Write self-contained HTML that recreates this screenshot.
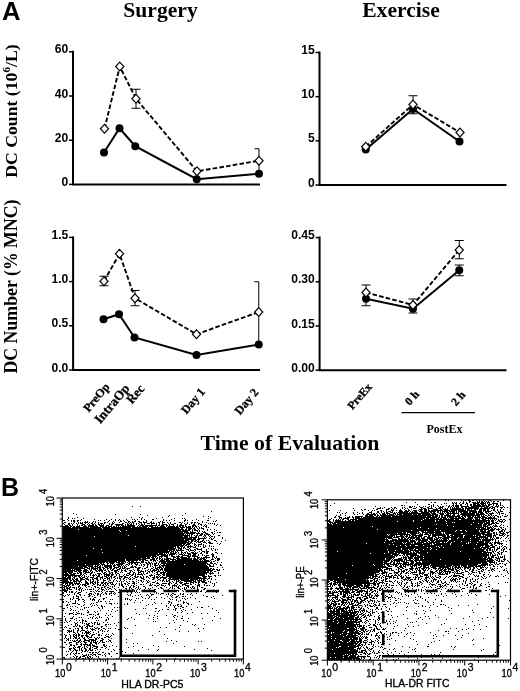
<!DOCTYPE html>
<html><head><meta charset="utf-8"><title>Figure</title>
<style>
html,body{margin:0;padding:0;background:#fff;}
svg{display:block;}
.sf{font-family:"Liberation Serif","DejaVu Serif",serif;font-weight:bold;fill:#000;}
.ss{font-family:"Liberation Sans","DejaVu Sans",sans-serif;font-weight:bold;fill:#000;}
.sr{font-family:"Liberation Sans","DejaVu Sans",sans-serif;fill:#000;stroke:#000;stroke-width:0.35px;}
</style></head><body>
<svg width="520" height="691" viewBox="0 0 520 691">
<rect width="520" height="691" fill="#fff"/>
<text x="2.1" y="20" class="ss" font-size="25.6" text-anchor="start">A</text>
<text x="0.9" y="496" class="ss" font-size="25" text-anchor="start">B</text>
<text x="160.5" y="17.3" class="sf" font-size="21.6" text-anchor="middle">Surgery</text>
<text x="401" y="17.3" class="sf" font-size="21.6" text-anchor="middle">Exercise</text>
<text x="290" y="449.5" class="sf" font-size="21.8" text-anchor="middle">Time of Evaluation</text>
<text x="16.7" y="177.7" class="sf" font-size="17.7" text-anchor="start" transform="rotate(-90 16.7 177.7)">DC Count (10<tspan font-size="11.2" dy="-6.5">6</tspan><tspan dy="6.5">/L)</tspan></text>
<text x="16.7" y="373.5" class="sf" font-size="17.8" text-anchor="start" transform="rotate(-90 16.7 373.5)">DC Number (% MNC)</text>
<path d="M73 50.8V184.4H260" fill="none" stroke="#000" stroke-width="2" stroke-linejoin="miter"/>
<path d="M69 184.4H73" stroke="#000" stroke-width="1.5"/>
<text x="68.2" y="185.9" class="ss" font-size="12.1" text-anchor="end">0</text>
<path d="M69 140.2H73" stroke="#000" stroke-width="1.5"/>
<text x="68.2" y="141.7" class="ss" font-size="12.1" text-anchor="end">20</text>
<path d="M69 95.99999999999999H73" stroke="#000" stroke-width="1.5"/>
<text x="68.2" y="97.5" class="ss" font-size="12.1" text-anchor="end">40</text>
<path d="M69 51.79999999999998H73" stroke="#000" stroke-width="1.5"/>
<text x="68.2" y="53.3" class="ss" font-size="12.1" text-anchor="end">60</text>
<path d="M104 152.5L119.5 128.25L135.25 146.25L196.75 179.25L259 173.75" fill="none" stroke="#000" stroke-width="2"/>
<path d="M104.5 128.75L119.75 66.5L136 98.75L197 171.25L259 160.75" fill="none" stroke="#000" stroke-width="1.9" stroke-dasharray="4.6 2.2"/>
<path d="M136 89.25V108.25M131.5 89.25H140.5M131.5 108.25H140.5" fill="none" stroke="#000" stroke-width="1"/>
<path d="M259 148.75V173M254.5 148.75H259" fill="none" stroke="#000" stroke-width="1"/>
<circle cx="104" cy="152.5" r="4" fill="#000"/>
<circle cx="119.5" cy="128.25" r="4" fill="#000"/>
<circle cx="135.25" cy="146.25" r="4" fill="#000"/>
<circle cx="196.75" cy="179.25" r="4" fill="#000"/>
<circle cx="259" cy="173.75" r="4" fill="#000"/>
<path d="M104.5 124.45L108.6 128.75L104.5 133.05L100.4 128.75Z" fill="#fff" stroke="#000" stroke-width="1.15"/>
<path d="M119.75 62.2L123.85 66.5L119.75 70.8L115.65 66.5Z" fill="#fff" stroke="#000" stroke-width="1.15"/>
<path d="M136 94.45L140.1 98.75L136 103.05L131.9 98.75Z" fill="#fff" stroke="#000" stroke-width="1.15"/>
<path d="M197 166.95L201.1 171.25L197 175.55L192.9 171.25Z" fill="#fff" stroke="#000" stroke-width="1.15"/>
<path d="M259 156.45L263.1 160.75L259 165.05L254.9 160.75Z" fill="#fff" stroke="#000" stroke-width="1.15"/>
<path d="M319.5 51.5V185.0H506.5" fill="none" stroke="#000" stroke-width="2" stroke-linejoin="miter"/>
<path d="M315.5 185.0H319.5" stroke="#000" stroke-width="1.5"/>
<text x="314.7" y="186.5" class="ss" font-size="12.1" text-anchor="end">0</text>
<path d="M315.5 140.83333333333334H319.5" stroke="#000" stroke-width="1.5"/>
<text x="314.7" y="142.33" class="ss" font-size="12.1" text-anchor="end">5</text>
<path d="M315.5 96.66666666666667H319.5" stroke="#000" stroke-width="1.5"/>
<text x="314.7" y="98.17" class="ss" font-size="12.1" text-anchor="end">10</text>
<path d="M315.5 52.5H319.5" stroke="#000" stroke-width="1.5"/>
<text x="314.7" y="54.0" class="ss" font-size="12.1" text-anchor="end">15</text>
<path d="M365.75 149.5L413 109L459.5 141.5" fill="none" stroke="#000" stroke-width="2"/>
<path d="M365.75 146.75L413 104.5L460 132.5" fill="none" stroke="#000" stroke-width="1.9" stroke-dasharray="4.6 2.2"/>
<path d="M413 95.75V113.75M408.5 95.75H417.5M408.5 113.75H417.5" fill="none" stroke="#000" stroke-width="1"/>
<circle cx="365.75" cy="149.5" r="4" fill="#000"/>
<circle cx="413" cy="109" r="4" fill="#000"/>
<circle cx="459.5" cy="141.5" r="4" fill="#000"/>
<path d="M365.75 142.45L369.85 146.75L365.75 151.05L361.65 146.75Z" fill="#fff" stroke="#000" stroke-width="1.15"/>
<path d="M413 100.2L417.1 104.5L413 108.8L408.9 104.5Z" fill="#fff" stroke="#000" stroke-width="1.15"/>
<path d="M460 128.2L464.1 132.5L460 136.8L455.9 132.5Z" fill="#fff" stroke="#000" stroke-width="1.15"/>
<path d="M73.1 236.4V370.0H260" fill="none" stroke="#000" stroke-width="2" stroke-linejoin="miter"/>
<path d="M69.1 370.0H73.1" stroke="#000" stroke-width="1.5"/>
<text x="68.3" y="371.5" class="ss" font-size="12.1" text-anchor="end">0.0</text>
<path d="M69.1 325.8H73.1" stroke="#000" stroke-width="1.5"/>
<text x="68.3" y="327.3" class="ss" font-size="12.1" text-anchor="end">0.5</text>
<path d="M69.1 281.6H73.1" stroke="#000" stroke-width="1.5"/>
<text x="68.3" y="283.1" class="ss" font-size="12.1" text-anchor="end">1.0</text>
<path d="M69.1 237.4H73.1" stroke="#000" stroke-width="1.5"/>
<text x="68.3" y="238.9" class="ss" font-size="12.1" text-anchor="end">1.5</text>
<path d="M103.5 319.25L119 314.25L134.5 337.5L196.5 355L258.75 344.5" fill="none" stroke="#000" stroke-width="2"/>
<path d="M104 281.25L119.5 253.75L135 298.25L196.5 334.25L258.75 312" fill="none" stroke="#000" stroke-width="1.9" stroke-dasharray="4.6 2.2"/>
<path d="M104 276.25V285.75M99.5 276.25H108.5M99.5 285.75H108.5" fill="none" stroke="#000" stroke-width="1"/>
<path d="M135 290.5V305.75M130.5 290.5H139.5M130.5 305.75H139.5" fill="none" stroke="#000" stroke-width="1"/>
<path d="M258.75 281.75V344M254.25 281.75H258.75" fill="none" stroke="#000" stroke-width="1"/>
<circle cx="103.5" cy="319.25" r="4" fill="#000"/>
<circle cx="119" cy="314.25" r="4" fill="#000"/>
<circle cx="134.5" cy="337.5" r="4" fill="#000"/>
<circle cx="196.5" cy="355" r="4" fill="#000"/>
<circle cx="258.75" cy="344.5" r="4" fill="#000"/>
<path d="M104 276.95L108.1 281.25L104 285.55L99.9 281.25Z" fill="#fff" stroke="#000" stroke-width="1.15"/>
<path d="M119.5 249.45L123.6 253.75L119.5 258.05L115.4 253.75Z" fill="#fff" stroke="#000" stroke-width="1.15"/>
<path d="M135 293.95L139.1 298.25L135 302.55L130.9 298.25Z" fill="#fff" stroke="#000" stroke-width="1.15"/>
<path d="M196.5 329.95L200.6 334.25L196.5 338.55L192.4 334.25Z" fill="#fff" stroke="#000" stroke-width="1.15"/>
<path d="M258.75 307.7L262.85 312L258.75 316.3L254.65 312Z" fill="#fff" stroke="#000" stroke-width="1.15"/>
<path d="M319.6 236.6V370.2H506.5" fill="none" stroke="#000" stroke-width="2" stroke-linejoin="miter"/>
<path d="M315.6 370.2H319.6" stroke="#000" stroke-width="1.5"/>
<text x="314.8" y="371.7" class="ss" font-size="12.1" text-anchor="end">0.00</text>
<path d="M315.6 326.0H319.6" stroke="#000" stroke-width="1.5"/>
<text x="314.8" y="327.5" class="ss" font-size="12.1" text-anchor="end">0.15</text>
<path d="M315.6 281.8H319.6" stroke="#000" stroke-width="1.5"/>
<text x="314.8" y="283.3" class="ss" font-size="12.1" text-anchor="end">0.30</text>
<path d="M315.6 237.6H319.6" stroke="#000" stroke-width="1.5"/>
<text x="314.8" y="239.1" class="ss" font-size="12.1" text-anchor="end">0.45</text>
<path d="M366 298.75L413 308.75L459.25 270.25" fill="none" stroke="#000" stroke-width="2"/>
<path d="M366 292.5L413 305L459.25 250" fill="none" stroke="#000" stroke-width="1.9" stroke-dasharray="4.6 2.2"/>
<path d="M366 285V305.75M361.5 285H370.5M361.5 305.75H370.5" fill="none" stroke="#000" stroke-width="1"/>
<path d="M413 299V313M408.5 299H417.5M408.5 313H417.5" fill="none" stroke="#000" stroke-width="1"/>
<path d="M459.25 240.5V258.75M454.75 240.5H463.75M454.75 258.75H463.75" fill="none" stroke="#000" stroke-width="1"/>
<path d="M459.25 265V275.75M454.75 265H463.75M454.75 275.75H463.75" fill="none" stroke="#000" stroke-width="1"/>
<circle cx="366" cy="298.75" r="4" fill="#000"/>
<circle cx="413" cy="308.75" r="4" fill="#000"/>
<circle cx="459.25" cy="270.25" r="4" fill="#000"/>
<path d="M366 288.2L370.1 292.5L366 296.8L361.9 292.5Z" fill="#fff" stroke="#000" stroke-width="1.15"/>
<path d="M413 300.7L417.1 305L413 309.3L408.9 305Z" fill="#fff" stroke="#000" stroke-width="1.15"/>
<path d="M459.25 245.7L463.35 250L459.25 254.3L455.15 250Z" fill="#fff" stroke="#000" stroke-width="1.15"/>
<text x="88.7" y="412.7" class="sf" font-size="11.9" text-anchor="start" transform="rotate(-50 88.7 412.7)" stroke="#000" stroke-width="0.3">PreOp</text>
<text x="100.3" y="424.3" class="sf" font-size="13.1" text-anchor="start" transform="rotate(-50 100.3 424.3)" stroke="#000" stroke-width="0.3">IntraOp</text>
<text x="132" y="404.5" class="sf" font-size="12.6" text-anchor="start" transform="rotate(-50 132 404.5)" stroke="#000" stroke-width="0.3">Rec</text>
<text x="186.5" y="414.8" class="sf" font-size="12" text-anchor="start" transform="rotate(-50 186.5 414.8)" stroke="#000" stroke-width="0.3">Day 1</text>
<text x="240" y="415.5" class="sf" font-size="12" text-anchor="start" transform="rotate(-50 240 415.5)" stroke="#000" stroke-width="0.3">Day 2</text>
<text x="352.5" y="410.3" class="sf" font-size="11.5" text-anchor="start" transform="rotate(-49 352.5 410.3)" stroke="#000" stroke-width="0.3">PreEx</text>
<text x="409.8" y="406" class="sf" font-size="11.5" text-anchor="start" transform="rotate(-48 409.8 406)" stroke="#000" stroke-width="0.3">0 h</text>
<text x="456" y="406.5" class="sf" font-size="11.5" text-anchor="start" transform="rotate(-48 456 406.5)" stroke="#000" stroke-width="0.3">2 h</text>
<path d="M401.5 412.7H475" stroke="#000" stroke-width="1.3"/>
<text x="444.5" y="432.7" class="sf" font-size="12" text-anchor="middle">PostEx</text>
<path d="M132 506.5h1m7 0h1M211 511.5h1M73 513.5h1m111 0h1M76 514.5h1m38 0h1m24 0h1M147 515.5h1m21 0h1m12 0h1M168 516.5h1m34 0h1m4 0h1M68 517.5h1m8 0h1m53 0h1m7 0h1m2 0h1m19 0h1m47 0h1M68 518.5h1m3 0h1m1 0h1m8 0h1m57 0h1m14 0h1m17 0h1m7 0h1m1 0h1m23 0h1M67 519.5h1m13 0h1m12 0h1m11 0h1m4 0h1m3 0h1m3 0h1m6 0h1m5 0h1m1 0h1m2 0h1m3 0h1m2 0h1m7 0h2m9 0h1m7 0h1m13 0h1m10 0h1M63 520.5h2m3 0h1m2 0h1m1 0h2m2 0h2m1 0h1m17 0h1m1 0h1m3 0h1m4 0h1m5 0h1m2 0h1m1 0h1m2 0h1m3 0h1m7 0h1m10 0h1m16 0h1m2 0h1m2 0h1m4 0h1m9 0h2m1 0h1m4 0h1m5 0h1m8 0h2m7 0h1M71 521.5h1m1 0h2m2 0h1m7 0h1m1 0h1m5 0h1m1 0h1m12 0h1m4 0h1m6 0h2m2 0h1m3 0h2m2 0h1m1 0h2m2 0h2m3 0h1m2 0h1m4 0h1m8 0h1m1 0h1m21 0h1m17 0h1m10 0h1m1 0h1M64 522.5h2m8 0h1m3 0h1m1 0h1m1 0h1m1 0h4m1 0h1m2 0h1m2 0h1m2 0h1m5 0h2m1 0h1m4 0h1m1 0h1m4 0h1m5 0h2m1 0h1m1 0h1m1 0h2m5 0h3m1 0h4m3 0h2m1 0h1m4 0h2m2 0h3m2 0h1m2 0h1m8 0h2m1 0h1m4 0h1m3 0h2m1 0h2m1 0h1m4 0h1m3 0h1M63 523.5h1m4 0h2m1 0h1m1 0h1m2 0h1m1 0h1m1 0h3m2 0h1m2 0h1m2 0h2m1 0h1m3 0h1m1 0h3m1 0h1m4 0h1m2 0h2m8 0h2m3 0h1m1 0h1m1 0h1m1 0h1m2 0h1m1 0h1m2 0h1m2 0h1m2 0h3m1 0h4m1 0h1m2 0h1m2 0h1m5 0h1m1 0h1m3 0h2m5 0h1m2 0h1m2 0h1m3 0h1m2 0h1m3 0h2m8 0h1m1 0h1m1 0h1m1 0h1M64 524.5h1m3 0h2m2 0h1m4 0h1m4 0h3m2 0h1m1 0h1m2 0h2m1 0h1m2 0h2m1 0h1m1 0h1m5 0h1m1 0h2m2 0h8m2 0h1m1 0h2m1 0h2m1 0h1m2 0h1m2 0h1m1 0h2m1 0h1m6 0h1m4 0h1m2 0h1m2 0h5m2 0h1m1 0h3m3 0h1m2 0h2m3 0h2m2 0h1m3 0h2m3 0h1m1 0h2m3 0h1m8 0h1m2 0h1M65 525.5h3m1 0h2m1 0h1m4 0h1m1 0h1m1 0h2m1 0h2m2 0h6m1 0h2m2 0h5m2 0h3m2 0h1m4 0h4m1 0h3m1 0h1m1 0h8m3 0h1m1 0h4m1 0h12m1 0h2m1 0h3m2 0h2m1 0h1m3 0h1m3 0h1m1 0h5m1 0h1m6 0h4m5 0h1m2 0h1m1 0h1m9 0h1m3 0h1M63 526.5h6m1 0h2m1 0h2m1 0h4m3 0h4m1 0h10m2 0h4m1 0h2m1 0h4m1 0h2m1 0h1m1 0h1m1 0h1m1 0h13m2 0h1m1 0h2m1 0h6m1 0h4m2 0h1m1 0h1m2 0h5m1 0h1m1 0h7m1 0h2m1 0h2m1 0h2m1 0h2m1 0h3m1 0h2m1 0h2m1 0h1m4 0h1m1 0h2M63 527.5h8m1 0h17m1 0h11m1 0h8m1 0h20m1 0h15m1 0h1m2 0h15m1 0h12m1 0h5m1 0h5m1 0h1m1 0h1m1 0h1m2 0h1m1 0h1m4 0h1m1 0h1M63 528.5h39m1 0h77m1 0h2m3 0h1m1 0h4m1 0h2m2 0h1m1 0h1m1 0h3M63 529.5h15m1 0h105m1 0h2m1 0h3m1 0h1m1 0h2m2 0h1m4 0h1m3 0h1m2 0h1m3 0h1M63 530.5h56m1 0h6m1 0h54m1 0h8m2 0h1m1 0h4m1 0h1m7 0h1m8 0h1M63 531.5h57m1 0h67m2 0h1m1 0h1m4 0h1m1 0h1m2 0h1m1 0h1m9 0h1M63 532.5h120m1 0h5m1 0h6m2 0h1m4 0h3m5 0h2m4 0h1m1 0h2M63 533.5h122m1 0h9m1 0h4m1 0h2m2 0h3m4 0h1m1 0h1M63 534.5h121m1 0h1m1 0h1m1 0h1m1 0h2m4 0h1m2 0h3m1 0h1m1 0h4m3 0h1M63 535.5h65m1 0h61m1 0h1m2 0h1m1 0h2m1 0h3m2 0h2m2 0h1m1 0h1m7 0h2M63 536.5h31m1 0h88m1 0h4m1 0h1m1 0h1m3 0h2m1 0h1m4 0h1m1 0h1m3 0h1m1 0h2m1 0h1M63 537.5h125m1 0h8m1 0h1m5 0h1m1 0h1m3 0h1m3 0h1m7 0h1M63 538.5h129m1 0h3m2 0h8m3 0h1m1 0h1m1 0h1m8 0h1M63 539.5h121m1 0h11m1 0h3m3 0h1m7 0h2M63 540.5h126m2 0h3m1 0h2m1 0h1m3 0h2m2 0h1m1 0h1m5 0h2m9 0h1M63 541.5h124m1 0h2m1 0h2m1 0h2m1 0h2m1 0h3m1 0h1m4 0h1m6 0h1m4 0h1M63 542.5h126m1 0h2m4 0h1m1 0h3m2 0h3m2 0h3M63 543.5h123m1 0h4m1 0h1m1 0h1m6 0h1m4 0h1m2 0h4m4 0h1m2 0h1M63 544.5h119m1 0h2m1 0h4m4 0h2m2 0h4m1 0h1m15 0h1M63 545.5h121m1 0h2m1 0h1m1 0h1m3 0h1m1 0h1m1 0h1m4 0h1m1 0h1m3 0h1M63 546.5h72m1 0h40m1 0h2m1 0h3m1 0h1m2 0h6m2 0h1m2 0h1m1 0h1m2 0h1m1 0h1m3 0h1m1 0h1m1 0h1M63 547.5h111m1 0h1m1 0h3m1 0h1m1 0h2m2 0h2m1 0h1m2 0h3m7 0h2M63 548.5h30m1 0h82m2 0h4m1 0h1m1 0h1m3 0h1m6 0h2m3 0h1m6 0h1m2 0h1m1 0h1M63 549.5h38m1 0h73m1 0h1m1 0h1m1 0h2m4 0h3m1 0h1m3 0h2m1 0h5m4 0h1m4 0h1m3 0h1m1 0h1M63 550.5h105m1 0h3m1 0h2m1 0h8m4 0h1m1 0h4m1 0h1m5 0h1m4 0h1m5 0h1m2 0h1M63 551.5h107m1 0h3m1 0h1m1 0h1m3 0h1m4 0h1m2 0h1m4 0h1m4 0h1m2 0h3m1 0h3M63 552.5h39m1 0h66m1 0h2m1 0h1m1 0h2m1 0h1m2 0h2m1 0h2m1 0h1m3 0h3m1 0h1m1 0h1m3 0h1m2 0h1m1 0h2m7 0h2M63 553.5h95m1 0h4m1 0h1m1 0h1m1 0h1m1 0h6m2 0h1m2 0h1m1 0h1m1 0h1m1 0h4m1 0h5m3 0h2m4 0h2m4 0h1m4 0h1m3 0h1M63 554.5h103m1 0h1m1 0h6m1 0h1m2 0h4m1 0h1m3 0h3m2 0h3m2 0h1m3 0h1m8 0h3M63 555.5h23m1 0h69m1 0h2m2 0h7m1 0h1m1 0h2m5 0h1m3 0h7m1 0h1m1 0h4m2 0h1m3 0h1m1 0h1m1 0h3m3 0h2M63 556.5h88m1 0h5m2 0h4m1 0h4m3 0h4m1 0h4m1 0h2m4 0h4m1 0h6m7 0h2m5 0h2m2 0h1M63 557.5h83m1 0h3m1 0h3m1 0h1m1 0h1m1 0h1m1 0h1m4 0h2m5 0h3m1 0h2m1 0h7m1 0h2m4 0h1m2 0h3m1 0h1m1 0h7m2 0h1m1 0h1m1 0h1M63 558.5h78m1 0h8m2 0h3m1 0h2m1 0h2m1 0h1m1 0h1m1 0h5m2 0h1m2 0h4m1 0h11m1 0h3m1 0h2m1 0h5m1 0h1m5 0h1m2 0h1m1 0h3M63 559.5h62m1 0h20m4 0h5m1 0h1m2 0h1m1 0h2m1 0h5m1 0h6m1 0h15m1 0h5m1 0h3m1 0h3m5 0h3m3 0h3M63 560.5h14m1 0h47m1 0h12m1 0h2m1 0h2m1 0h3m2 0h2m1 0h3m1 0h1m2 0h5m1 0h4m2 0h2m1 0h24m1 0h1m1 0h1m1 0h5m1 0h1m4 0h1m1 0h2M63 561.5h54m1 0h8m2 0h2m1 0h3m2 0h1m4 0h3m4 0h1m4 0h1m1 0h1m3 0h51m1 0h1m1 0h2M63 562.5h42m1 0h2m1 0h6m1 0h4m1 0h3m1 0h1m1 0h1m1 0h11m1 0h3m1 0h2m1 0h2m1 0h1m4 0h1m2 0h1m1 0h5m1 0h40m3 0h2m5 0h1m3 0h1M63 563.5h36m1 0h2m1 0h1m3 0h2m1 0h4m4 0h7m3 0h2m1 0h2m1 0h2m1 0h1m2 0h1m5 0h2m1 0h2m1 0h1m1 0h3m1 0h1m2 0h47m2 0h3m1 0h2M63 564.5h22m1 0h14m1 0h4m2 0h1m2 0h1m1 0h1m1 0h1m1 0h7m3 0h2m1 0h1m1 0h1m3 0h3m3 0h1m1 0h2m2 0h2m1 0h1m1 0h1m1 0h2m2 0h1m1 0h1m2 0h2m1 0h18m1 0h21m1 0h3m3 0h1m2 0h1m3 0h1M63 565.5h30m2 0h1m1 0h2m1 0h1m1 0h1m1 0h8m1 0h3m1 0h3m1 0h1m1 0h1m1 0h1m2 0h1m3 0h1m3 0h1m2 0h1m1 0h1m2 0h1m2 0h1m2 0h1m3 0h4m1 0h1m1 0h46m2 0h2m2 0h1m6 0h2M63 566.5h15m1 0h8m1 0h5m1 0h4m1 0h2m3 0h8m1 0h2m3 0h3m1 0h1m1 0h1m1 0h1m4 0h2m1 0h2m7 0h1m3 0h1m2 0h1m1 0h1m2 0h1m3 0h2m1 0h2m1 0h43m1 0h5M63 567.5h20m1 0h4m1 0h1m1 0h3m1 0h1m1 0h4m1 0h2m1 0h3m1 0h3m2 0h5m1 0h1m1 0h1m1 0h2m4 0h4m1 0h2m1 0h3m5 0h2m5 0h1m1 0h1m1 0h5m1 0h1m1 0h44m8 0h1m4 0h1M63 568.5h22m2 0h3m1 0h7m1 0h2m2 0h2m2 0h2m1 0h2m1 0h2m1 0h1m2 0h2m1 0h3m1 0h4m7 0h3m2 0h1m1 0h2m5 0h2m2 0h3m1 0h1m1 0h2m1 0h45m1 0h2m1 0h1M63 569.5h8m1 0h1m1 0h7m3 0h3m2 0h1m1 0h1m1 0h3m1 0h1m1 0h3m1 0h1m1 0h1m1 0h1m2 0h1m1 0h2m3 0h3m1 0h1m3 0h1m1 0h1m5 0h1m3 0h2m9 0h1m1 0h1m2 0h2m1 0h3m1 0h3m1 0h47m1 0h3m1 0h2m1 0h1m3 0h1M63 570.5h12m1 0h6m1 0h5m2 0h2m3 0h2m1 0h5m1 0h2m2 0h1m2 0h2m1 0h4m3 0h2m1 0h2m3 0h3m2 0h1m2 0h3m1 0h1m3 0h1m1 0h1m2 0h1m1 0h5m1 0h1m1 0h1m1 0h1m1 0h49m4 0h3M63 571.5h10m1 0h3m1 0h3m2 0h4m1 0h1m1 0h1m1 0h1m3 0h2m1 0h1m1 0h2m3 0h1m1 0h2m4 0h3m1 0h1m2 0h1m3 0h2m3 0h1m1 0h1m5 0h1m1 0h4m1 0h1m2 0h2m1 0h2m1 0h1m2 0h3m3 0h1m1 0h41m1 0h2m1 0h2m2 0h2M63 572.5h4m1 0h5m4 0h1m1 0h3m1 0h1m1 0h5m1 0h2m1 0h1m7 0h1m1 0h2m3 0h1m1 0h2m2 0h2m3 0h1m1 0h1m6 0h2m2 0h2m3 0h3m2 0h1m3 0h1m1 0h1m2 0h1m3 0h2m2 0h6m1 0h42m1 0h1m1 0h1m5 0h1M63 573.5h1m1 0h3m1 0h3m1 0h3m1 0h2m1 0h2m2 0h2m4 0h2m5 0h4m2 0h2m1 0h1m2 0h2m1 0h1m2 0h1m1 0h2m8 0h3m3 0h1m1 0h1m2 0h1m2 0h1m1 0h1m2 0h2m6 0h1m2 0h1m2 0h2m1 0h2m1 0h41m2 0h5m4 0h1M63 574.5h6m1 0h5m5 0h2m1 0h1m2 0h1m3 0h1m2 0h1m1 0h1m2 0h2m1 0h1m2 0h6m1 0h3m2 0h1m2 0h1m4 0h1m1 0h1m2 0h2m1 0h2m1 0h1m1 0h6m1 0h1m6 0h1m4 0h4m2 0h3m1 0h39m1 0h1m3 0h1M63 575.5h18m1 0h1m1 0h1m5 0h1m1 0h3m1 0h1m1 0h2m4 0h1m1 0h4m1 0h2m3 0h1m2 0h1m3 0h1m2 0h3m2 0h2m2 0h1m6 0h1m6 0h4m1 0h1m3 0h1m1 0h1m2 0h2m1 0h39m3 0h1m5 0h2m2 0h1m1 0h1M63 576.5h1m1 0h2m1 0h3m1 0h1m1 0h3m1 0h2m1 0h1m2 0h1m1 0h1m1 0h1m4 0h1m3 0h3m2 0h1m1 0h3m1 0h1m1 0h2m2 0h2m3 0h4m1 0h2m4 0h1m3 0h2m1 0h2m1 0h1m2 0h1m2 0h2m2 0h1m3 0h1m1 0h2m1 0h1m2 0h1m3 0h33m3 0h5m1 0h4m3 0h1M63 577.5h3m1 0h4m2 0h2m4 0h2m1 0h3m2 0h1m2 0h4m2 0h2m2 0h3m3 0h2m1 0h1m1 0h1m1 0h2m2 0h1m1 0h1m1 0h1m2 0h4m1 0h1m2 0h1m2 0h3m2 0h2m1 0h1m2 0h1m1 0h1m3 0h3m1 0h3m1 0h7m2 0h32m2 0h3m3 0h1M63 578.5h8m1 0h1m1 0h1m1 0h2m2 0h3m2 0h3m4 0h1m1 0h4m2 0h1m1 0h1m1 0h2m1 0h3m1 0h1m3 0h1m1 0h1m1 0h2m2 0h2m3 0h1m1 0h1m2 0h2m6 0h3m5 0h1m3 0h2m2 0h1m2 0h1m2 0h3m2 0h3m1 0h35m1 0h2m1 0h1M63 579.5h5m1 0h2m1 0h2m1 0h3m2 0h5m1 0h3m1 0h1m1 0h2m2 0h2m2 0h1m2 0h1m3 0h1m1 0h1m4 0h1m5 0h1m2 0h1m2 0h1m2 0h2m1 0h1m3 0h1m6 0h2m7 0h2m4 0h2m3 0h1m2 0h1m2 0h10m1 0h9m1 0h8m1 0h1m1 0h1m1 0h2m2 0h1m3 0h1m3 0h1M63 580.5h5m2 0h2m1 0h2m1 0h3m1 0h2m3 0h1m2 0h1m1 0h1m2 0h1m3 0h2m4 0h3m3 0h2m2 0h1m2 0h1m3 0h1m3 0h1m13 0h1m1 0h2m4 0h1m1 0h1m8 0h1m2 0h1m1 0h2m2 0h1m1 0h2m4 0h1m1 0h1m1 0h2m1 0h13m1 0h1m1 0h5m1 0h3M63 581.5h6m1 0h1m2 0h4m1 0h3m4 0h2m3 0h1m1 0h2m1 0h1m1 0h1m5 0h1m4 0h1m4 0h1m3 0h1m1 0h1m1 0h1m1 0h1m2 0h1m2 0h1m2 0h2m2 0h1m4 0h1m1 0h1m3 0h1m1 0h1m5 0h1m6 0h1m1 0h1m1 0h2m1 0h1m2 0h1m3 0h3m1 0h1m3 0h8m1 0h3m2 0h2m1 0h4m3 0h1m1 0h1M63 582.5h10m1 0h1m1 0h1m2 0h1m1 0h1m3 0h3m2 0h3m1 0h2m1 0h2m2 0h3m1 0h2m2 0h4m8 0h1m5 0h1m5 0h2m3 0h1m3 0h1m4 0h2m3 0h3m2 0h1m11 0h2m2 0h1m2 0h1m2 0h4m3 0h1m3 0h4m1 0h2m1 0h2m2 0h5m3 0h1m5 0h1M63 583.5h1m1 0h3m1 0h4m1 0h6m5 0h4m1 0h1m1 0h2m1 0h1m1 0h1m3 0h2m1 0h2m1 0h2m1 0h1m1 0h1m3 0h1m2 0h1m1 0h1m2 0h2m2 0h2m2 0h3m1 0h1m9 0h1m3 0h1m5 0h3m3 0h5m1 0h2m1 0h1m3 0h2m3 0h2m2 0h5m1 0h1m2 0h1m4 0h1m6 0h2m5 0h1m1 0h1M65 584.5h1m1 0h1m1 0h2m1 0h2m1 0h1m1 0h2m1 0h1m1 0h4m1 0h2m4 0h2m2 0h2m1 0h1m2 0h1m1 0h1m1 0h1m3 0h3m1 0h1m3 0h1m1 0h2m2 0h1m1 0h1m6 0h1m5 0h2m1 0h1m6 0h1m1 0h1m6 0h1m1 0h1m6 0h2m4 0h1m2 0h1m4 0h4m4 0h2m3 0h1m2 0h2m4 0h1m9 0h1M63 585.5h2m1 0h4m2 0h2m5 0h1m2 0h1m1 0h3m5 0h1m4 0h1m1 0h2m1 0h2m2 0h1m1 0h1m5 0h1m4 0h1m1 0h2m5 0h1m2 0h1m1 0h1m2 0h1m12 0h3m2 0h2m1 0h2m2 0h3m1 0h1m3 0h1m2 0h5m2 0h1m2 0h1m2 0h4m8 0h3m4 0h1m1 0h2m1 0h1m4 0h1M64 586.5h3m1 0h1m1 0h1m7 0h2m5 0h1m2 0h2m4 0h2m8 0h2m4 0h1m1 0h1m1 0h1m7 0h2m2 0h1m3 0h1m2 0h2m3 0h1m4 0h2m11 0h1m7 0h1m7 0h1m1 0h1m1 0h1m1 0h1m1 0h1m6 0h2m3 0h2m3 0h1m1 0h1m13 0h1M63 587.5h2m1 0h2m1 0h2m1 0h3m1 0h1m1 0h1m1 0h1m5 0h1m4 0h1m3 0h1m1 0h2m2 0h2m1 0h1m2 0h2m3 0h1m5 0h1m4 0h1m5 0h2m2 0h1m2 0h1m1 0h1m6 0h1m6 0h1m7 0h2m4 0h1m3 0h1m1 0h1m4 0h2m5 0h1m1 0h1m1 0h1m1 0h1m1 0h1m1 0h1m2 0h1m3 0h2M64 588.5h1m1 0h4m4 0h1m1 0h1m2 0h2m1 0h1m10 0h1m5 0h1m1 0h1m3 0h1m3 0h2m3 0h1m10 0h2m2 0h1m1 0h1m3 0h1m2 0h1m1 0h1m4 0h1m2 0h1m1 0h1m7 0h1m2 0h2m6 0h1m2 0h1m1 0h1m3 0h2m2 0h1m1 0h1m1 0h1m4 0h1m1 0h2m2 0h1m6 0h2M63 589.5h3m1 0h1m1 0h3m4 0h1m1 0h2m1 0h1m3 0h1m1 0h1m1 0h3m1 0h1m4 0h1m2 0h3m2 0h1m1 0h1m2 0h1m3 0h1m3 0h1m1 0h1m4 0h1m2 0h1m2 0h2m3 0h1m1 0h1m4 0h1m4 0h1m4 0h2m7 0h1m4 0h1m11 0h1m3 0h2m11 0h2m4 0h2M63 590.5h5m11 0h1m1 0h1m1 0h1m11 0h1m1 0h1m4 0h1m1 0h1m11 0h1m3 0h2m4 0h1m2 0h2m3 0h1m1 0h1m8 0h1m3 0h1m2 0h3m9 0h2m5 0h1m2 0h2m1 0h2m3 0h1m5 0h2m11 0h1M64 591.5h3m2 0h1m1 0h2m3 0h1m4 0h1m8 0h2m1 0h1m2 0h1m1 0h2m1 0h1m4 0h2m1 0h5m14 0h2m4 0h1m1 0h1m8 0h1m1 0h1m7 0h1m11 0h2m6 0h1m2 0h1m4 0h1m10 0h1m3 0h1m1 0h2m4 0h1M63 592.5h1m2 0h1m2 0h1m1 0h2m2 0h1m2 0h3m5 0h1m7 0h1m7 0h1m2 0h1m5 0h1m2 0h1m3 0h2m1 0h1m5 0h1m3 0h1m3 0h1m1 0h1m1 0h1m14 0h1m1 0h1m48 0h1m10 0h1M63 593.5h1m10 0h1m2 0h2m10 0h3m3 0h1m1 0h2m2 0h1m3 0h2m2 0h3m1 0h1m1 0h1m15 0h1m18 0h1m5 0h1m1 0h1m2 0h3m4 0h1m3 0h2m6 0h1m2 0h1m7 0h1m4 0h1M67 594.5h1m1 0h1m4 0h1m4 0h2m7 0h2m1 0h1m1 0h1m3 0h2m1 0h1m2 0h1m2 0h1m2 0h1m4 0h1m6 0h1m5 0h1m2 0h1m9 0h1m6 0h1m3 0h3m6 0h1m5 0h1m1 0h1m2 0h1m2 0h2m4 0h1m1 0h2m3 0h1m2 0h1M63 595.5h1m1 0h1m2 0h1m7 0h1m3 0h1m3 0h1m4 0h2m3 0h1m2 0h1m2 0h1m10 0h1m16 0h1m1 0h1m4 0h1m2 0h1m7 0h1m1 0h1m2 0h1m18 0h1m1 0h1m5 0h1m13 0h1m10 0h1m18 0h1M64 596.5h1m8 0h1m2 0h3m9 0h2m2 0h1m7 0h1m17 0h1m13 0h1m8 0h1m7 0h1m17 0h1m3 0h1m4 0h2m4 0h2m1 0h1m20 0h2m5 0h1M73 597.5h1m4 0h1m2 0h1m12 0h2m10 0h1m35 0h1m6 0h1m6 0h1m4 0h1m10 0h1m2 0h2m2 0h1m10 0h1m20 0h1M70 598.5h1m2 0h1m2 0h3m11 0h1m2 0h1m9 0h2m20 0h1m1 0h1m8 0h1m1 0h1m6 0h1m2 0h1m15 0h1m4 0h1m12 0h1m1 0h1m2 0h1m7 0h1m18 0h1M63 599.5h1m6 0h1m1 0h1m5 0h2m2 0h2m6 0h1m1 0h3m4 0h1m3 0h1m6 0h1m1 0h1m12 0h1m1 0h1m1 0h1m1 0h1m19 0h1m2 0h1m15 0h1m1 0h1m3 0h1m8 0h1M75 600.5h1m2 0h1m5 0h1m7 0h1m1 0h1m3 0h1m21 0h1m9 0h1m4 0h1m6 0h1m33 0h1m3 0h1M63 601.5h1m2 0h1m3 0h1m4 0h1m7 0h1m14 0h1m1 0h2m3 0h1m3 0h1m58 0h2m8 0h1m4 0h1m15 0h1M63 602.5h1m4 0h1m6 0h1m8 0h1m11 0h2m36 0h1m5 0h1m13 0h1m14 0h1m1 0h1m11 0h2m1 0h1M72 603.5h4m1 0h1m13 0h1m1 0h1m12 0h1m2 0h3m2 0h1m2 0h1m2 0h1m6 0h1m27 0h1m5 0h1m6 0h1m2 0h1m11 0h1m3 0h2M67 604.5h1m1 0h1m8 0h2m4 0h1m5 0h1m5 0h1m14 0h1m12 0h1m2 0h1m20 0h1m3 0h1m17 0h1m6 0h2m1 0h1m7 0h1m2 0h1M66 605.5h2m15 0h1m8 0h1m1 0h1m2 0h1m3 0h1m44 0h1m19 0h1m3 0h1m2 0h1m1 0h1m1 0h1m3 0h1M70 606.5h1m1 0h1m2 0h1m5 0h1m9 0h1m9 0h2m1 0h1m61 0h1m7 0h1m3 0h1m1 0h2m4 0h1m21 0h1M67 607.5h1m9 0h1m6 0h1m1 0h1m1 0h1m9 0h1m3 0h1m11 0h1m2 0h1m1 0h1m48 0h1m5 0h1m7 0h2m13 0h1m3 0h2M63 608.5h2m5 0h1m13 0h1m14 0h1m2 0h1m40 0h1m1 0h1m9 0h2m18 0h2m3 0h1m31 0h1M71 609.5h1m8 0h1m1 0h1m29 0h1m22 0h1m26 0h1m4 0h2m4 0h1m1 0h1m7 0h1m7 0h1M63 610.5h1m6 0h1m2 0h1m1 0h1m11 0h1m12 0h1m7 0h1m8 0h1m41 0h1m15 0h1m5 0h1m3 0h1m30 0h1M78 611.5h1m9 0h1m5 0h1m2 0h1m13 0h1m3 0h1m39 0h1m2 0h1m23 0h1M73 612.5h1m2 0h1m10 0h2m6 0h1m81 0h1m3 0h1m10 0h1m25 0h1M65 613.5h1m3 0h4m4 0h3m1 0h1m16 0h1m7 0h1m29 0h1m9 0h1m10 0h1m29 0h1m13 0h1m5 0h1M69 614.5h1m3 0h1m1 0h2m4 0h1m1 0h1m5 0h3m1 0h1m3 0h2m11 0h1m28 0h1m32 0h1M87 615.5h1m7 0h1m9 0h1m2 0h1m40 0h1m4 0h1m11 0h1m7 0h2M64 616.5h1m8 0h1m19 0h1m5 0h1m12 0h1m44 0h1m15 0h1m3 0h1m4 0h1m31 0h1M72 617.5h1m6 0h1m1 0h1m8 0h1m1 0h1m3 0h1m2 0h1m1 0h1m5 0h1m23 0h1m21 0h1m20 0h1M65 618.5h1m4 0h3m3 0h1m11 0h1m3 0h1m2 0h1m1 0h1m10 0h1m19 0h1m19 0h1m8 0h1m23 0h2m5 0h1m13 0h1m17 0h1M65 619.5h1m8 0h1m7 0h1m23 0h1m1 0h1m18 0h1m6 0h1m18 0h1m22 0h1M65 620.5h1m4 0h1m5 0h1m2 0h1m2 0h2m1 0h1m10 0h1m1 0h1m6 0h2m66 0h1m9 0h1m28 0h1M66 621.5h1m2 0h1m12 0h1m2 0h2m66 0h1m1 0h1m31 0h1M64 622.5h1m2 0h1m6 0h1m2 0h1m2 0h1m1 0h1m8 0h1m2 0h2m1 0h1m5 0h1m3 0h1m10 0h1m55 0h1M75 623.5h2m5 0h1m1 0h1m1 0h1m1 0h2m2 0h1m1 0h1m2 0h1m1 0h1m14 0h1m54 0h1M71 624.5h1m3 0h1m1 0h1m8 0h3m5 0h1m2 0h3m5 0h2m1 0h1m1 0h1m81 0h1m2 0h1m8 0h1M68 625.5h1m6 0h1m1 0h1m1 0h1m4 0h1m2 0h3m2 0h1m12 0h1m10 0h1m18 0h1m44 0h1m13 0h1M65 626.5h1m7 0h2m1 0h1m2 0h2m1 0h1m3 0h2m1 0h4m8 0h2m3 0h1M64 627.5h1m1 0h1m14 0h2m2 0h1m1 0h1m6 0h1m2 0h1m3 0h1m22 0h1m35 0h1m5 0h1m12 0h1M69 628.5h2m4 0h1m1 0h2m2 0h2m3 0h2m2 0h1m1 0h1m2 0h2m1 0h2m3 0h2m3 0h1m1 0h1m4 0h1m9 0h1m1 0h1m70 0h1m4 0h1M63 629.5h1m9 0h1m4 0h1m3 0h1m8 0h4m3 0h1m2 0h1m3 0h1m12 0h2m55 0h1M67 630.5h3m1 0h1m1 0h1m3 0h2m2 0h4m2 0h1m4 0h1m2 0h1m4 0h1m1 0h1m5 0h1M68 631.5h4m1 0h1m3 0h1m2 0h1m4 0h2m1 0h1m1 0h1m7 0h1m3 0h1m1 0h1m2 0h1m51 0h1m19 0h1m8 0h1m10 0h1M67 632.5h1m1 0h1m3 0h2m2 0h1m4 0h1m2 0h5m3 0h1m4 0h1M75 633.5h1m2 0h1m3 0h1m1 0h1m1 0h3m1 0h1m5 0h1m5 0h1m9 0h1m19 0h1M64 634.5h1m4 0h1m3 0h2m1 0h1m1 0h2m6 0h1m2 0h1m2 0h3m3 0h2m6 0h1m1 0h1m4 0h1m6 0h1m43 0h1M65 635.5h2m3 0h1m2 0h1m1 0h2m1 0h2m1 0h3m1 0h3m3 0h2m5 0h2m1 0h1m3 0h1m5 0h1m40 0h1M65 636.5h1m4 0h1m2 0h2m1 0h1m1 0h1m2 0h2m3 0h3m2 0h1m14 0h3m1 0h1M65 637.5h1m4 0h1m3 0h3m2 0h1m2 0h1m1 0h1m2 0h1m1 0h3m2 0h1m2 0h1m1 0h1m4 0h2m2 0h2M64 638.5h1m1 0h1m1 0h1m1 0h1m2 0h1m1 0h2m1 0h2m3 0h2m3 0h1m6 0h2m1 0h1m2 0h2m8 0h1m55 0h1M67 639.5h2m8 0h1m2 0h1m3 0h2m3 0h5m1 0h2m5 0h2m4 0h1m17 0h1M66 640.5h1m1 0h1m1 0h1m1 0h1m1 0h1m1 0h2m1 0h2m3 0h6m1 0h5m4 0h3m6 0h2m60 0h1M73 641.5h3m2 0h2m1 0h1m1 0h2m3 0h2m1 0h1m1 0h1m1 0h1m1 0h1m2 0h1m1 0h1m3 0h1m1 0h1m1 0h1m55 0h1m9 0h1m21 0h1m2 0h1M64 642.5h2m3 0h3m4 0h3m1 0h1m3 0h3m3 0h2m1 0h4m2 0h1m2 0h3m6 0h1m14 0h1M69 643.5h1m6 0h1m4 0h1m3 0h1m4 0h2m3 0h2m1 0h1m34 0h1m3 0h1m35 0h1M66 644.5h1m3 0h2m4 0h2m2 0h2m1 0h5m1 0h2m1 0h1m3 0h1m6 0h2M70 645.5h2m1 0h2m6 0h1m2 0h1m2 0h4m1 0h3m8 0h2m1 0h1m5 0h1m8 0h1m31 0h1M69 646.5h1m4 0h1m3 0h3m3 0h1m1 0h1m3 0h1m2 0h5m6 0h2m3 0h1m6 0h1m16 0h1m24 0h1m25 0h1M63 647.5h2m8 0h1m1 0h1m1 0h3m2 0h1m1 0h1m2 0h1m2 0h1m1 0h1m3 0h2m3 0h2m3 0h1m21 0h1m13 0h1M69 648.5h3m1 0h2m4 0h1m1 0h1m2 0h2m3 0h2m3 0h3m8 0h1m101 0h1M69 649.5h2m3 0h2m3 0h1m1 0h1m3 0h2m2 0h2m1 0h1m4 0h1m2 0h1m7 0h1m4 0h1m5 0h1m28 0h1m9 0h1m35 0h1M70 650.5h1m2 0h1m1 0h3m1 0h1m1 0h2m2 0h2m1 0h1m1 0h3m2 0h1m18 0h1m23 0h1m18 0h1m53 0h1M66 651.5h1m1 0h1m3 0h1m3 0h1m5 0h1m1 0h2m1 0h1m11 0h1m11 0h1m10 0h1M71 652.5h1m4 0h1m4 0h1m7 0h2m1 0h2m1 0h2m1 0h1m3 0h2m21 0h1M70 653.5h1m2 0h1m1 0h2m1 0h2m12 0h1m4 0h1m7 0h1m2 0h2m6 0h2m15 0h1M67 654.5h1m2 0h1m3 0h1m7 0h1m3 0h1m1 0h1m1 0h2m1 0h3m2 0h3m3 0h1m4 0h1M66 655.5h1m8 0h1m7 0h4m1 0h1m3 0h1m2 0h1m6 0h1m2 0h1m28 0h1m12 0h1m22 0h1M73 656.5h1m2 0h2m2 0h1m1 0h3m2 0h1m1 0h2m5 0h1m1 0h1m6 0h1m5 0h1m41 0h1m8 0h1m47 0h1M63 657.5h2m5 0h1m3 0h1m1 0h1m2 0h2m4 0h1m1 0h2m1 0h1m1 0h1m5 0h1m20 0h1M64 658.5h1m11 0h1m1 0h2m2 0h2m1 0h1m2 0h2m1 0h1m7 0h1m7 0h1m8 0h1m1 0h1m2 0h1m53 0h1" stroke="#000" stroke-width="1" fill="none" shape-rendering="crispEdges"/>
<rect x="62.3" y="498" width="181.10000000000002" height="161.10000000000002" fill="none" stroke="#000" stroke-width="1.2"/>
<path d="M62.30 659.1v5.3M62.3 659.10h-5.8M75.93 659.1v2.6M62.3 646.98h-2.6M83.90 659.1v2.6M62.3 639.88h-2.6M89.56 659.1v2.6M62.3 634.85h-2.6M93.95 659.1v2.6M62.3 630.95h-2.6M97.53 659.1v2.6M62.3 627.76h-2.6M100.56 659.1v2.6M62.3 625.06h-2.6M103.19 659.1v2.6M62.3 622.73h-2.6M105.50 659.1v2.6M62.3 620.67h-2.6M107.58 659.1v5.3M62.3 618.83h-5.8M121.20 659.1v2.6M62.3 606.70h-2.6M129.18 659.1v2.6M62.3 599.61h-2.6M134.83 659.1v2.6M62.3 594.58h-2.6M139.22 659.1v2.6M62.3 590.67h-2.6M142.81 659.1v2.6M62.3 587.48h-2.6M145.84 659.1v2.6M62.3 584.79h-2.6M148.46 659.1v2.6M62.3 582.45h-2.6M150.78 659.1v2.6M62.3 580.39h-2.6M152.85 659.1v5.3M62.3 578.55h-5.8M166.48 659.1v2.6M62.3 566.43h-2.6M174.45 659.1v2.6M62.3 559.33h-2.6M180.11 659.1v2.6M62.3 554.30h-2.6M184.50 659.1v2.6M62.3 550.40h-2.6M188.08 659.1v2.6M62.3 547.21h-2.6M191.11 659.1v2.6M62.3 544.51h-2.6M193.74 659.1v2.6M62.3 542.18h-2.6M196.05 659.1v2.6M62.3 540.12h-2.6M198.12 659.1v5.3M62.3 538.27h-5.8M211.75 659.1v2.6M62.3 526.15h-2.6M219.73 659.1v2.6M62.3 519.06h-2.6M225.38 659.1v2.6M62.3 514.03h-2.6M229.77 659.1v2.6M62.3 510.12h-2.6M233.36 659.1v2.6M62.3 506.93h-2.6M236.39 659.1v2.6M62.3 504.24h-2.6M239.01 659.1v2.6M62.3 501.90h-2.6M241.33 659.1v2.6M62.3 499.84h-2.6M243.40 659.1v5.3M62.3 498.00h-5.8" stroke="#000" stroke-width="1" fill="none"/>
<g transform="translate(65.4 677.4)"><g transform="scale(0.82 1)"><text x="0" y="0" class="sr" font-size="11.3" text-anchor="end">10</text></g><g transform="translate(0.7 -6.3) scale(0.9 1)"><text x="0" y="0" class="sr" font-size="11.6">0</text></g></g>
<g transform="translate(53.5 654.6) rotate(-90)"><g transform="scale(0.82 1)"><text x="0" y="0" class="sr" font-size="11.3" text-anchor="end">10</text></g><g transform="translate(2.2 -6.3) scale(0.8 1)"><text x="0" y="0" class="sr" font-size="11.6">0</text></g></g>
<g transform="translate(111.0 677.4)"><g transform="scale(0.82 1)"><text x="0" y="0" class="sr" font-size="11.3" text-anchor="end">10</text></g><g transform="translate(0.7 -6.3) scale(0.9 1)"><text x="0" y="0" class="sr" font-size="11.6">1</text></g></g>
<g transform="translate(53.5 615.6) rotate(-90)"><g transform="scale(0.82 1)"><text x="0" y="0" class="sr" font-size="11.3" text-anchor="end">10</text></g><g transform="translate(2.2 -6.3) scale(0.8 1)"><text x="0" y="0" class="sr" font-size="11.6">1</text></g></g>
<g transform="translate(155.6 677.4)"><g transform="scale(0.82 1)"><text x="0" y="0" class="sr" font-size="11.3" text-anchor="end">10</text></g><g transform="translate(0.7 -6.3) scale(0.9 1)"><text x="0" y="0" class="sr" font-size="11.6">2</text></g></g>
<g transform="translate(53.5 576.6) rotate(-90)"><g transform="scale(0.82 1)"><text x="0" y="0" class="sr" font-size="11.3" text-anchor="end">10</text></g><g transform="translate(2.2 -6.3) scale(0.8 1)"><text x="0" y="0" class="sr" font-size="11.6">2</text></g></g>
<g transform="translate(200.2 677.4)"><g transform="scale(0.82 1)"><text x="0" y="0" class="sr" font-size="11.3" text-anchor="end">10</text></g><g transform="translate(0.7 -6.3) scale(0.9 1)"><text x="0" y="0" class="sr" font-size="11.6">3</text></g></g>
<g transform="translate(53.5 536.9) rotate(-90)"><g transform="scale(0.82 1)"><text x="0" y="0" class="sr" font-size="11.3" text-anchor="end">10</text></g><g transform="translate(2.2 -6.3) scale(0.8 1)"><text x="0" y="0" class="sr" font-size="11.6">3</text></g></g>
<g transform="translate(244.3 677.4)"><g transform="scale(0.82 1)"><text x="0" y="0" class="sr" font-size="11.3" text-anchor="end">10</text></g><g transform="translate(0.7 -6.3) scale(0.9 1)"><text x="0" y="0" class="sr" font-size="11.6">4</text></g></g>
<g transform="translate(53.5 496.1) rotate(-90)"><g transform="scale(0.82 1)"><text x="0" y="0" class="sr" font-size="11.3" text-anchor="end">10</text></g><g transform="translate(2.2 -6.3) scale(0.8 1)"><text x="0" y="0" class="sr" font-size="11.6">4</text></g></g>
<g transform="translate(38.3 601) rotate(-90) scale(0.89 1)"><text x="0" y="0" class="sr" font-size="11.7">lin+-FITC</text></g>
<text x="121.3" y="688.4" class="sr" font-size="10.55" text-anchor="start">HLA DR-PC5</text>
<path d="M119.5 591H133.6M141.5 591H155M163.5 591H177M185.5 591H199M206.5 591H219M228.8 591H236.3" fill="none" stroke="#000" stroke-width="2.6"/>
<path d="M120.8 589.7V655.7H235V589.7" fill="none" stroke="#000" stroke-width="2.6" stroke-linejoin="miter"/>
<path d="M425 500.5h1m19 0h1m2 0h1m12 0h1m3 0h1m2 0h2m2 0h2m2 0h1m2 0h1m3 0h1m5 0h2m12 0h1M463 501.5h1m5 0h2m6 0h1m1 0h1m1 0h2m1 0h1m1 0h1m1 0h1m2 0h1m1 0h2m2 0h2M406 502.5h1m8 0h1m15 0h1m2 0h2m16 0h1m1 0h1m1 0h1m3 0h1m2 0h1m2 0h1m2 0h1m2 0h4m1 0h3m1 0h3m1 0h1m1 0h3m3 0h1m6 0h1M334 503.5h1m109 0h1m1 0h1m5 0h2m1 0h2m2 0h1m2 0h2m2 0h2m5 0h6m1 0h6m1 0h1m1 0h1m2 0h6m2 0h1M417 504.5h1m10 0h2m3 0h1m7 0h1m11 0h1m2 0h1m3 0h2m3 0h1m1 0h1m2 0h2m1 0h3m1 0h3m1 0h3m1 0h1m2 0h4m1 0h1m2 0h2m2 0h1M330 505.5h1m70 0h2m1 0h1m26 0h1m1 0h1m3 0h1m8 0h1m2 0h1m2 0h2m1 0h4m1 0h2m5 0h1m2 0h2m1 0h8m1 0h5m1 0h2m3 0h1m2 0h1m1 0h1m1 0h1m1 0h1M375 506.5h1m33 0h2m1 0h1m1 0h1m4 0h1m3 0h1m1 0h1m3 0h1m1 0h1m1 0h1m4 0h1m1 0h1m1 0h2m4 0h2m1 0h1m1 0h1m1 0h4m2 0h8m2 0h14m1 0h3m2 0h2m2 0h4m4 0h1M380 507.5h1m3 0h1m6 0h1m2 0h2m6 0h1m1 0h1m4 0h3m4 0h1m3 0h3m4 0h2m2 0h1m3 0h1m3 0h4m5 0h1m1 0h1m1 0h1m1 0h1m1 0h3m2 0h2m2 0h2m1 0h11m2 0h1m2 0h4m1 0h2m1 0h3m2 0h1m2 0h3m1 0h1m2 0h1M353 508.5h1m19 0h1m3 0h4m1 0h1m5 0h2m2 0h1m1 0h1m1 0h1m5 0h1m2 0h1m1 0h1m5 0h3m5 0h1m1 0h3m2 0h5m3 0h1m1 0h3m1 0h1m2 0h1m1 0h1m2 0h1m1 0h9m1 0h2m1 0h14m1 0h10m1 0h2m1 0h1m6 0h1M361 509.5h1m2 0h2m10 0h2m8 0h3m2 0h1m1 0h1m6 0h1m3 0h1m3 0h1m2 0h1m7 0h4m1 0h3m1 0h1m4 0h5m2 0h2m1 0h5m2 0h14m1 0h1m1 0h3m1 0h1m2 0h4m1 0h3m1 0h3m1 0h2m4 0h2m2 0h1m2 0h1m2 0h1M329 510.5h1m10 0h1m13 0h1m7 0h1m5 0h1m3 0h1m1 0h1m5 0h2m4 0h1m4 0h3m2 0h1m2 0h3m3 0h2m1 0h2m3 0h4m1 0h1m1 0h2m2 0h3m1 0h2m1 0h12m1 0h6m1 0h6m1 0h8m1 0h9m3 0h3m1 0h3m1 0h2m2 0h1m1 0h2m2 0h1m2 0h1M371 511.5h1m5 0h2m2 0h1m1 0h1m2 0h1m1 0h3m1 0h1m6 0h4m1 0h5m1 0h1m1 0h1m1 0h3m2 0h4m1 0h3m1 0h8m1 0h2m1 0h1m1 0h6m1 0h6m1 0h1m1 0h10m1 0h8m1 0h4m1 0h1m1 0h6m4 0h1m2 0h1m1 0h3M337 512.5h1m1 0h1m6 0h1m6 0h1m3 0h1m4 0h1m6 0h3m5 0h2m2 0h1m2 0h1m1 0h2m2 0h3m1 0h1m1 0h1m1 0h10m1 0h1m1 0h7m3 0h8m1 0h2m1 0h2m2 0h2m1 0h1m1 0h1m1 0h1m1 0h3m1 0h1m1 0h3m1 0h1m1 0h1m1 0h2m1 0h5m1 0h2m1 0h5m1 0h5m2 0h2m1 0h1m3 0h1m3 0h1m1 0h2m9 0h1M342 513.5h1m2 0h1m7 0h1m5 0h1m2 0h1m4 0h2m2 0h1m1 0h2m1 0h1m2 0h1m2 0h3m1 0h4m3 0h3m1 0h1m1 0h31m1 0h5m3 0h5m1 0h1m1 0h12m2 0h14m1 0h3m1 0h4m2 0h2m1 0h5m3 0h1m1 0h1m1 0h3M340 514.5h1m13 0h1m2 0h1m5 0h1m2 0h10m1 0h1m2 0h1m1 0h4m1 0h1m1 0h5m1 0h1m1 0h5m1 0h9m1 0h4m1 0h3m1 0h9m1 0h6m2 0h4m2 0h3m1 0h1m2 0h2m3 0h1m1 0h15m1 0h9m3 0h1m1 0h2m7 0h1m5 0h1M336 515.5h1m3 0h1m4 0h1m19 0h3m1 0h4m1 0h2m1 0h2m1 0h15m1 0h2m1 0h35m1 0h3m1 0h1m1 0h2m1 0h7m1 0h3m2 0h3m2 0h18m1 0h1m1 0h1m1 0h2m1 0h2m1 0h1m1 0h1m1 0h2m5 0h1m4 0h1M335 516.5h1m2 0h2m9 0h1m2 0h1m2 0h8m2 0h9m2 0h2m1 0h1m1 0h10m1 0h34m1 0h4m1 0h6m1 0h1m1 0h2m1 0h2m1 0h13m1 0h2m1 0h2m1 0h4m1 0h2m1 0h1m1 0h3m1 0h4m2 0h1m2 0h1m1 0h1m1 0h1m2 0h2m1 0h1m3 0h3M334 517.5h2m3 0h3m3 0h1m1 0h3m2 0h2m1 0h5m1 0h1m1 0h74m1 0h2m1 0h5m1 0h1m1 0h5m1 0h2m1 0h3m1 0h2m1 0h1m2 0h5m1 0h7m1 0h5m1 0h4m1 0h2m3 0h1m1 0h1M331 518.5h1m7 0h1m1 0h1m1 0h6m4 0h1m1 0h70m1 0h3m1 0h5m1 0h3m1 0h2m1 0h4m1 0h1m1 0h15m2 0h6m2 0h3m1 0h1m1 0h3m1 0h12M329 519.5h2m2 0h1m2 0h1m1 0h1m1 0h1m1 0h2m3 0h2m1 0h7m1 0h65m1 0h30m1 0h4m2 0h11m1 0h1m1 0h5m2 0h4m2 0h1m1 0h1m1 0h1m1 0h1m1 0h1m1 0h1m1 0h2m1 0h2m4 0h1M328 520.5h2m3 0h1m1 0h6m1 0h1m2 0h1m2 0h3m1 0h2m1 0h58m1 0h7m1 0h13m1 0h2m1 0h6m1 0h44m1 0h3m1 0h1m2 0h2m2 0h1m2 0h1M328 521.5h3m2 0h1m1 0h62m1 0h15m1 0h21m1 0h10m1 0h40m1 0h2m1 0h3m3 0h1m1 0h4m1 0h1M329 522.5h4m1 0h118m1 0h1m1 0h18m1 0h11m1 0h4m2 0h2m1 0h2m4 0h1m1 0h1M328 523.5h1m1 0h1m1 0h4m1 0h109m1 0h31m1 0h4m1 0h6m1 0h4m1 0h3M328 524.5h4m1 0h103m1 0h34m1 0h10m1 0h4m1 0h4m3 0h1m5 0h1M328 525.5h119m1 0h34m1 0h3m1 0h3m3 0h1m1 0h2m3 0h1m2 0h1M328 526.5h44m1 0h80m1 0h28m1 0h5m2 0h1m1 0h1m1 0h4m1 0h1m7 0h1M328 527.5h15m1 0h76m1 0h63m1 0h1m1 0h5m1 0h1m6 0h2m1 0h1M328 528.5h89m1 0h10m1 0h7m1 0h39m1 0h3m1 0h5m1 0h3m1 0h2m1 0h2m2 0h1m2 0h1m3 0h1M328 529.5h49m1 0h111m1 0h5m1 0h4m2 0h2m1 0h1M328 530.5h83m1 0h28m1 0h15m1 0h3m2 0h3m1 0h13m1 0h3m1 0h2m2 0h6m4 0h1m2 0h2m1 0h1M328 531.5h91m2 0h3m1 0h1m1 0h7m1 0h20m1 0h10m1 0h12m1 0h6m1 0h3m1 0h2m6 0h4m1 0h1m4 0h1M328 532.5h74m1 0h3m1 0h10m1 0h2m2 0h19m2 0h1m1 0h35m1 0h9m3 0h2m1 0h1m2 0h2m2 0h1m2 0h3M328 533.5h69m1 0h8m1 0h1m2 0h9m1 0h1m1 0h1m2 0h3m1 0h5m1 0h7m1 0h1m1 0h16m2 0h22m2 0h5m1 0h2m1 0h1m3 0h5m2 0h1M328 534.5h59m1 0h1m1 0h20m1 0h5m3 0h4m1 0h5m1 0h1m1 0h13m1 0h3m2 0h30m1 0h10m2 0h1m1 0h2m1 0h1m2 0h2m1 0h1M328 535.5h60m1 0h6m1 0h1m3 0h3m1 0h1m1 0h2m1 0h2m1 0h11m5 0h3m1 0h14m1 0h2m1 0h3m1 0h9m2 0h8m1 0h1m1 0h5m2 0h1m1 0h7m1 0h3m3 0h4m1 0h1m2 0h2M328 536.5h65m1 0h1m1 0h8m1 0h3m1 0h1m1 0h3m1 0h2m1 0h4m2 0h3m1 0h2m2 0h4m2 0h1m3 0h4m1 0h3m1 0h12m1 0h14m1 0h7m1 0h5m1 0h1m1 0h1m7 0h1m3 0h1M328 537.5h64m1 0h6m2 0h4m1 0h1m1 0h12m1 0h1m1 0h2m2 0h6m2 0h2m1 0h4m1 0h15m1 0h4m1 0h11m1 0h12m2 0h2m1 0h1m2 0h3m2 0h1m4 0h1M328 538.5h57m1 0h1m1 0h5m5 0h2m1 0h2m1 0h2m1 0h2m1 0h5m1 0h4m1 0h4m2 0h6m1 0h1m1 0h3m1 0h1m1 0h7m2 0h6m1 0h12m1 0h9m1 0h1m1 0h1m1 0h3m2 0h1m1 0h1m1 0h1m1 0h3m1 0h1m4 0h1m2 0h1M328 539.5h60m4 0h5m1 0h10m1 0h2m1 0h1m2 0h6m1 0h6m1 0h4m1 0h4m1 0h1m1 0h1m1 0h4m1 0h1m2 0h30m1 0h12m1 0h1M328 540.5h57m1 0h3m1 0h19m1 0h5m1 0h1m1 0h10m2 0h5m1 0h12m1 0h21m1 0h8m1 0h1m1 0h9m1 0h1m2 0h1m2 0h1m4 0h1m5 0h1M328 541.5h66m1 0h14m1 0h6m2 0h2m1 0h6m1 0h2m1 0h3m1 0h12m1 0h6m1 0h6m1 0h22m1 0h5m5 0h1m2 0h1m2 0h1m4 0h1M328 542.5h56m1 0h7m1 0h9m1 0h3m1 0h6m1 0h2m1 0h7m2 0h2m1 0h11m2 0h2m1 0h1m1 0h4m1 0h16m1 0h1m1 0h6m1 0h6m1 0h4m1 0h1m1 0h1m1 0h6M328 543.5h38m1 0h36m1 0h1m1 0h5m1 0h1m1 0h8m1 0h9m1 0h2m1 0h14m1 0h15m1 0h1m1 0h19m1 0h3m2 0h2m1 0h6M328 544.5h61m1 0h3m1 0h36m1 0h1m2 0h16m1 0h25m1 0h11m3 0h2m1 0h1m4 0h1m1 0h1m4 0h1M328 545.5h72m1 0h4m1 0h4m1 0h4m3 0h5m1 0h17m1 0h20m1 0h21m1 0h4m1 0h3m2 0h2m5 0h1M328 546.5h68m1 0h9m1 0h29m1 0h1m1 0h42m1 0h1m2 0h5m2 0h3m4 0h1m1 0h1m2 0h2M328 547.5h99m1 0h2m1 0h8m1 0h3m1 0h36m1 0h8m1 0h5m2 0h1m1 0h1m3 0h1m2 0h1M328 548.5h73m1 0h12m1 0h16m1 0h42m1 0h7m1 0h3m1 0h4m3 0h1m2 0h3m2 0h1m1 0h1m1 0h1M328 549.5h59m1 0h13m1 0h6m1 0h4m1 0h2m2 0h5m1 0h6m1 0h5m1 0h48m1 0h2m1 0h2m1 0h1m1 0h1m1 0h2m3 0h1m1 0h2m4 0h1M328 550.5h67m1 0h7m1 0h5m1 0h74m2 0h2m1 0h2m1 0h1m1 0h1m1 0h1m4 0h1m1 0h1M328 551.5h9m1 0h50m1 0h22m2 0h1m1 0h4m1 0h40m1 0h25m1 0h1m4 0h2m1 0h1m3 0h1m3 0h1m1 0h2M328 552.5h60m1 0h5m1 0h14m1 0h2m1 0h2m1 0h11m1 0h54m1 0h9m1 0h1m3 0h2m2 0h2M328 553.5h42m1 0h13m1 0h12m1 0h2m1 0h16m1 0h69m1 0h1m1 0h2m2 0h1m3 0h2m1 0h1M328 554.5h63m1 0h7m4 0h2m1 0h11m3 0h69m1 0h1m1 0h1m2 0h1m1 0h1m1 0h1m1 0h1M328 555.5h65m1 0h4m1 0h2m1 0h1m1 0h1m1 0h2m2 0h9m1 0h69m1 0h1m1 0h4m1 0h1m6 0h1M328 556.5h67m1 0h1m6 0h1m1 0h1m1 0h2m1 0h4m1 0h1m1 0h6m1 0h63m1 0h1m2 0h3m4 0h1m1 0h1m1 0h1m1 0h1M328 557.5h67m6 0h1m1 0h4m1 0h5m1 0h69m1 0h3m1 0h2m1 0h3m1 0h2m1 0h1m1 0h3m1 0h1M328 558.5h57m1 0h6m1 0h1m4 0h4m1 0h1m1 0h2m1 0h5m1 0h5m1 0h3m1 0h62m1 0h5m4 0h4m4 0h1M328 559.5h57m1 0h5m1 0h1m1 0h9m1 0h3m2 0h2m2 0h1m1 0h4m1 0h20m1 0h28m1 0h18m1 0h4m2 0h1m1 0h1m1 0h1m3 0h3M328 560.5h62m1 0h1m1 0h10m1 0h1m1 0h7m1 0h72m1 0h7m2 0h2m1 0h1m1 0h1m2 0h1m2 0h1M328 561.5h55m1 0h5m2 0h2m1 0h1m1 0h4m1 0h4m1 0h1m3 0h4m1 0h2m2 0h1m2 0h71m1 0h1m3 0h2m1 0h3m4 0h1M328 562.5h59m3 0h2m1 0h2m2 0h1m1 0h1m3 0h6m2 0h3m2 0h5m1 0h65m2 0h6m1 0h1m12 0h1M328 563.5h55m1 0h7m2 0h2m1 0h6m1 0h4m1 0h1m1 0h4m1 0h66m1 0h6m2 0h1m3 0h1m1 0h1m2 0h2m1 0h1m3 0h1M328 564.5h45m1 0h11m1 0h3m1 0h7m1 0h1m1 0h1m1 0h11m1 0h16m1 0h47m3 0h7m1 0h1m1 0h2m2 0h1m1 0h2m5 0h2M328 565.5h24m1 0h21m1 0h8m1 0h1m2 0h3m3 0h1m1 0h3m2 0h2m1 0h1m1 0h1m1 0h2m1 0h1m1 0h5m1 0h2m1 0h1m1 0h6m1 0h15m1 0h6m1 0h7m1 0h6m1 0h9m1 0h8m1 0h1m1 0h2m2 0h1m11 0h1M328 566.5h58m2 0h4m3 0h2m2 0h3m1 0h3m4 0h3m1 0h1m1 0h1m3 0h2m1 0h3m2 0h1m1 0h1m1 0h19m1 0h2m1 0h2m1 0h2m1 0h1m1 0h4m1 0h6m1 0h6m1 0h1m1 0h1m8 0h2m2 0h1m2 0h1m1 0h1M328 567.5h60m9 0h2m1 0h3m2 0h1m5 0h2m3 0h1m1 0h3m2 0h6m2 0h5m3 0h10m1 0h1m1 0h1m1 0h7m1 0h1m1 0h7m2 0h2m1 0h1m3 0h4m1 0h1m1 0h1m2 0h1m10 0h1M328 568.5h53m1 0h1m3 0h6m6 0h2m2 0h2m5 0h5m1 0h3m1 0h1m1 0h4m1 0h1m1 0h2m3 0h4m1 0h3m1 0h2m1 0h1m1 0h4m1 0h2m1 0h1m1 0h2m1 0h1m3 0h2m1 0h2m1 0h1m2 0h2m2 0h1m2 0h2m4 0h1m3 0h1m1 0h1m1 0h1m2 0h1m8 0h1M328 569.5h50m1 0h3m2 0h4m1 0h1m1 0h1m4 0h1m1 0h1m1 0h2m3 0h3m2 0h3m2 0h1m1 0h1m1 0h1m2 0h2m1 0h1m2 0h1m2 0h1m3 0h1m2 0h1m1 0h3m1 0h3m1 0h6m1 0h2m2 0h1m1 0h1m2 0h1m4 0h2m1 0h2m4 0h2m2 0h2m1 0h1m5 0h3m10 0h1M328 570.5h55m1 0h1m4 0h1m1 0h3m4 0h1m2 0h1m1 0h2m1 0h1m2 0h1m2 0h1m3 0h1m1 0h3m2 0h3m1 0h1m2 0h1m5 0h2m1 0h3m1 0h3m2 0h1m2 0h3m2 0h3m3 0h1m2 0h1m3 0h1m2 0h2m2 0h1m4 0h1m1 0h1m4 0h2m1 0h1m2 0h1m8 0h2m1 0h1M328 571.5h52m1 0h2m1 0h2m8 0h1m3 0h2m1 0h4m3 0h1m1 0h1m3 0h1m1 0h1m2 0h2m3 0h1m5 0h3m2 0h2m2 0h1m1 0h2m1 0h7m3 0h1m1 0h2m1 0h1m5 0h3m3 0h2m5 0h2m1 0h2m9 0h1m6 0h1m7 0h1M328 572.5h51m3 0h6m6 0h5m2 0h1m1 0h1m2 0h2m3 0h6m2 0h2m1 0h3m5 0h5m2 0h1m1 0h3m1 0h1m1 0h1m1 0h1m1 0h2m1 0h2m1 0h1m1 0h1m3 0h3m4 0h1m3 0h3m1 0h1m2 0h1m4 0h1m4 0h1m17 0h1M328 573.5h18m1 0h29m3 0h1m1 0h4m1 0h1m2 0h3m2 0h1m1 0h2m2 0h2m3 0h2m1 0h1m1 0h1m1 0h1m6 0h5m4 0h1m1 0h1m1 0h2m1 0h1m2 0h3m1 0h1m2 0h3m1 0h1m4 0h1m1 0h6m7 0h1m1 0h1m7 0h2m27 0h1M328 574.5h46m1 0h4m3 0h1m3 0h1m1 0h1m6 0h1m2 0h1m1 0h1m12 0h5m1 0h1m2 0h1m1 0h4m2 0h1m1 0h1m6 0h6m1 0h2m6 0h1m7 0h2m4 0h1m1 0h1m2 0h1m9 0h2m3 0h1m12 0h1M328 575.5h46m1 0h2m3 0h1m2 0h2m1 0h1m1 0h1m2 0h2m1 0h3m1 0h2m1 0h1m3 0h1m2 0h1m7 0h2m2 0h1m3 0h4m2 0h1m4 0h1m2 0h1m12 0h1m1 0h7m3 0h1m10 0h1m1 0h1m1 0h1m4 0h1m6 0h1m6 0h1m7 0h1M328 576.5h41m1 0h1m1 0h6m1 0h1m2 0h1m2 0h7m1 0h1m3 0h1m2 0h2m1 0h1m2 0h1m8 0h1m1 0h1m2 0h3m3 0h1m1 0h1m1 0h1m1 0h1m2 0h1m3 0h2m5 0h1m2 0h2m2 0h4m2 0h4m6 0h1m5 0h1m1 0h2m2 0h1m2 0h1m4 0h1m5 0h2m1 0h1m4 0h1M328 577.5h10m1 0h32m1 0h2m1 0h1m2 0h2m1 0h1m1 0h1m1 0h1m3 0h3m1 0h3m1 0h1m3 0h3m2 0h5m2 0h1m1 0h2m1 0h2m5 0h4m2 0h1m1 0h1m2 0h3m1 0h1m4 0h1m2 0h1m3 0h1m5 0h1m3 0h2m3 0h1m14 0h1m3 0h1M328 578.5h41m1 0h3m1 0h4m3 0h1m3 0h3m1 0h1m3 0h1m3 0h2m2 0h2m2 0h1m1 0h3m5 0h1m2 0h1m2 0h1m3 0h2m2 0h1m2 0h1m1 0h1m4 0h1m4 0h1m6 0h1m1 0h1m1 0h2m2 0h2m4 0h2m5 0h1m5 0h1m4 0h1m1 0h1m22 0h1M328 579.5h17m1 0h20m1 0h1m5 0h2m2 0h1m1 0h1m3 0h1m1 0h2m16 0h4m1 0h1m1 0h3m1 0h2m2 0h1m1 0h1m3 0h1m1 0h1m6 0h4m6 0h1m6 0h1m1 0h4m1 0h1m1 0h1m6 0h1m3 0h1m1 0h1m2 0h1m1 0h1m3 0h1M328 580.5h1m1 0h3m1 0h35m1 0h3m1 0h1m1 0h2m3 0h3m1 0h1m3 0h1m5 0h1m5 0h1m2 0h1m2 0h1m1 0h2m11 0h1m2 0h2m1 0h1m2 0h1m1 0h1m1 0h1m2 0h1m1 0h1m9 0h3m1 0h2m7 0h1m2 0h1m3 0h1m4 0h1M328 581.5h2m3 0h3m1 0h32m1 0h2m2 0h3m1 0h1m3 0h1m2 0h3m1 0h3m2 0h1m2 0h1m4 0h1m8 0h1m7 0h2m2 0h1m2 0h2m3 0h1m1 0h1m3 0h2m2 0h1m3 0h1m5 0h1m1 0h1m1 0h1m1 0h1m1 0h1m3 0h1m1 0h1m4 0h1m2 0h2m2 0h1M328 582.5h1m2 0h1m2 0h36m3 0h2m1 0h1m2 0h5m8 0h1m4 0h1m1 0h1m1 0h1m4 0h2m3 0h1m5 0h1m2 0h2m5 0h1m1 0h1m2 0h1m4 0h2m2 0h1m2 0h2m3 0h1m6 0h1m8 0h1m5 0h1m5 0h1m10 0h1m16 0h1m1 0h1M329 583.5h3m1 0h3m1 0h1m1 0h2m1 0h34m1 0h3m2 0h1m1 0h1m1 0h2m5 0h1m4 0h1m2 0h1m2 0h1m1 0h1m4 0h2m2 0h1m1 0h1m1 0h1m2 0h1m7 0h1m5 0h1m5 0h2m2 0h1m15 0h1m2 0h1m3 0h2m1 0h1m8 0h1m16 0h1M328 584.5h1m1 0h2m1 0h4m1 0h3m1 0h4m1 0h15m2 0h2m1 0h3m3 0h3m1 0h2m7 0h1m2 0h1m9 0h1m1 0h1m3 0h1m6 0h1m4 0h1m3 0h1m7 0h1m1 0h4m3 0h3m4 0h1m1 0h2m2 0h1m7 0h1m2 0h1m4 0h1m3 0h1m2 0h2m4 0h1m4 0h1m3 0h1M330 585.5h1m1 0h1m1 0h1m3 0h3m2 0h11m2 0h7m1 0h6m1 0h1m2 0h2m2 0h1m2 0h1m1 0h1m1 0h2m2 0h1m1 0h3m2 0h1m3 0h1m3 0h1m6 0h2m2 0h1m1 0h3m12 0h1m2 0h1m4 0h1m1 0h1m1 0h2m10 0h1m7 0h1m1 0h2m5 0h2m5 0h2M328 586.5h3m1 0h1m6 0h2m3 0h1m1 0h6m1 0h7m1 0h2m1 0h5m4 0h1m3 0h2m2 0h1m5 0h1m13 0h1m2 0h1m2 0h1m1 0h1m2 0h1m1 0h1m2 0h1m6 0h1m5 0h1m6 0h1m1 0h3m1 0h1m2 0h1m3 0h1m1 0h1m6 0h1m10 0h1m2 0h1m5 0h1m8 0h2M331 587.5h1m4 0h1m2 0h4m1 0h1m2 0h1m1 0h2m1 0h6m1 0h2m2 0h2m1 0h9m2 0h1m2 0h1m3 0h1m1 0h1m1 0h2m2 0h1m10 0h1m2 0h2m14 0h1m3 0h1m1 0h1m2 0h1m3 0h1m4 0h1m1 0h1m9 0h1m7 0h1m6 0h1m2 0h1m2 0h1m2 0h1m9 0h1M328 588.5h1m1 0h3m2 0h8m2 0h4m1 0h1m1 0h2m4 0h1m1 0h7m1 0h2m1 0h1m2 0h3m2 0h2m1 0h1m2 0h1m5 0h1m10 0h1m5 0h1m3 0h1m24 0h3m5 0h1m5 0h1m10 0h3m8 0h1m1 0h2m15 0h1M328 589.5h1m1 0h2m5 0h2m1 0h19m2 0h1m5 0h1m2 0h3m4 0h1m1 0h1m1 0h2m4 0h1m5 0h1m9 0h3m1 0h1m8 0h1m1 0h1m2 0h1m3 0h1m7 0h1m1 0h2m4 0h1m6 0h1m1 0h1m10 0h1m10 0h1m16 0h1M333 590.5h1m1 0h1m3 0h1m2 0h2m1 0h4m1 0h1m1 0h1m2 0h3m1 0h6m2 0h1m2 0h2m2 0h2m3 0h2m3 0h1m2 0h1m3 0h1m12 0h1m3 0h1m7 0h1m1 0h1m2 0h1m1 0h1m26 0h1m2 0h1m24 0h1m6 0h2m10 0h1M328 591.5h3m1 0h1m1 0h1m1 0h1m1 0h12m2 0h3m2 0h6m1 0h4m1 0h1m2 0h2m1 0h1m1 0h1m13 0h1m4 0h1m8 0h1m15 0h1m10 0h1m7 0h1m5 0h1m1 0h1m13 0h1M329 592.5h2m1 0h6m2 0h2m1 0h7m1 0h3m2 0h4m1 0h1m4 0h2m3 0h2m4 0h1m10 0h1m1 0h1m4 0h1m1 0h1m1 0h1m5 0h1m2 0h1m5 0h1m15 0h1m23 0h1m14 0h1m27 0h1M328 593.5h6m4 0h1m1 0h2m1 0h1m1 0h3m1 0h2m3 0h1m4 0h1m3 0h1m1 0h3m1 0h2m3 0h1m1 0h1m4 0h1m16 0h1m2 0h1m12 0h1m9 0h1m2 0h1m3 0h1m2 0h1m6 0h1m3 0h1m6 0h1m14 0h1m3 0h1M328 594.5h1m3 0h2m3 0h1m2 0h2m1 0h3m1 0h1m3 0h1m1 0h3m1 0h3m1 0h1m3 0h1m1 0h1m1 0h2m4 0h1m1 0h1m3 0h1m7 0h1m11 0h1m3 0h1m5 0h1m5 0h1m23 0h1m13 0h1m19 0h1m13 0h1M328 595.5h8m1 0h2m4 0h3m1 0h1m1 0h1m1 0h1m1 0h1m1 0h4m2 0h2m2 0h1m1 0h3m1 0h2m2 0h4m4 0h1m1 0h1m5 0h1m14 0h1m1 0h1m27 0h1m1 0h1m7 0h1m14 0h1m6 0h1m7 0h1m20 0h1m7 0h1M328 596.5h1m1 0h1m4 0h3m4 0h4m2 0h1m2 0h3m9 0h4m2 0h1m1 0h1m2 0h1m1 0h2m4 0h1m3 0h2m3 0h1m10 0h1m5 0h1m9 0h1m1 0h1m22 0h1m12 0h1m43 0h1M329 597.5h1m2 0h6m2 0h1m2 0h2m1 0h6m1 0h1m3 0h4m1 0h1m3 0h2m1 0h3m1 0h1m11 0h1m2 0h3m1 0h1m1 0h1m20 0h1m4 0h1m7 0h1M332 598.5h1m2 0h1m1 0h1m3 0h2m4 0h2m2 0h1m4 0h2m1 0h2m3 0h4m4 0h3m1 0h1m11 0h1m6 0h1m2 0h1m23 0h1M328 599.5h2m1 0h1m1 0h1m2 0h2m1 0h1m2 0h4m1 0h4m1 0h2m2 0h1m3 0h2m2 0h2m4 0h1m13 0h1m5 0h1m9 0h1m14 0h1m9 0h1m9 0h1M328 600.5h1m1 0h1m1 0h1m1 0h1m3 0h3m1 0h6m2 0h1m1 0h1m1 0h4m3 0h4m2 0h1m2 0h3m1 0h1m2 0h1m4 0h1m12 0h2m16 0h1m3 0h1m7 0h1m15 0h1m67 0h1M329 601.5h1m2 0h7m2 0h3m2 0h1m1 0h1m2 0h2m1 0h2m1 0h1m2 0h3m2 0h1m2 0h2m2 0h1m1 0h1m3 0h2m4 0h1m2 0h1m2 0h1m36 0h1m13 0h1M328 602.5h1m2 0h1m2 0h2m5 0h6m1 0h2m1 0h1m2 0h1m1 0h3m1 0h2m1 0h1m4 0h1m5 0h1m1 0h1m17 0h1m3 0h1m1 0h1m3 0h1m9 0h1m13 0h1m4 0h1M329 603.5h1m1 0h3m1 0h2m1 0h2m2 0h2m1 0h1m1 0h1m1 0h1m1 0h3m4 0h3m8 0h1m1 0h1m1 0h1m5 0h1m13 0h1m2 0h1m9 0h1m1 0h1m6 0h2m1 0h1M328 604.5h1m1 0h2m1 0h4m1 0h2m1 0h2m1 0h1m1 0h1m2 0h4m2 0h1m1 0h2m5 0h1m2 0h1m6 0h2m3 0h1m3 0h3m4 0h1m42 0h1m6 0h2m1 0h1m33 0h1M328 605.5h3m2 0h3m5 0h1m1 0h2m3 0h1m3 0h6m1 0h3m3 0h1m1 0h1m1 0h2m2 0h1m1 0h2m1 0h2m42 0h1m7 0h1m14 0h1m12 0h1m9 0h1M328 606.5h4m1 0h1m1 0h1m1 0h4m4 0h1m1 0h2m2 0h3m4 0h1m3 0h1m2 0h1m4 0h3m1 0h1m7 0h1m2 0h1m9 0h1m11 0h1m10 0h1m3 0h1m2 0h1m11 0h1m55 0h1M328 607.5h3m1 0h1m1 0h1m1 0h2m1 0h2m2 0h2m1 0h4m1 0h4m1 0h1m1 0h2m1 0h1m5 0h1m8 0h2m8 0h1m19 0h1m22 0h1m18 0h1M328 608.5h5m1 0h3m1 0h10m1 0h1m1 0h3m6 0h2m1 0h1m4 0h1m7 0h2m3 0h1m7 0h1m61 0h1m39 0h1m16 0h1M328 609.5h1m1 0h1m2 0h2m1 0h8m1 0h2m2 0h1m1 0h1m1 0h4m2 0h2m2 0h2m5 0h1m1 0h1m2 0h1m2 0h1m2 0h1m7 0h1M328 610.5h1m1 0h2m1 0h2m1 0h4m1 0h4m1 0h1m1 0h5m1 0h1m4 0h1m1 0h4m1 0h1m5 0h1m13 0h1m19 0h1m16 0h1m6 0h1m18 0h1m22 0h1M329 611.5h11m1 0h7m1 0h2m1 0h1m1 0h5m1 0h1m1 0h1m1 0h1m1 0h2m2 0h1m1 0h1m3 0h1m10 0h2m2 0h1m24 0h1m8 0h1M328 612.5h1m1 0h5m1 0h4m1 0h1m1 0h14m1 0h1m1 0h1m2 0h1m4 0h2m2 0h3m6 0h1m1 0h1m89 0h1m16 0h1M328 613.5h21m1 0h6m1 0h1m3 0h2m2 0h1m4 0h1m1 0h1m5 0h1m35 0h1m1 0h1m7 0h1m26 0h1M328 614.5h4m1 0h7m1 0h11m1 0h2m1 0h2m1 0h3m1 0h2m3 0h1m1 0h1m11 0h1m5 0h1m14 0h1m12 0h1M328 615.5h7m1 0h21m1 0h1m3 0h2m1 0h1m1 0h2m1 0h2m7 0h1m11 0h1m43 0h1M328 616.5h5m1 0h3m1 0h10m1 0h6m2 0h2m2 0h1m2 0h2m3 0h1m4 0h1m3 0h1m5 0h1m12 0h1m27 0h1m2 0h1m40 0h1M328 617.5h7m1 0h3m1 0h14m1 0h4m1 0h1m2 0h2m1 0h1m11 0h2m2 0h1m9 0h1m27 0h1m17 0h1m48 0h1m5 0h1M328 618.5h6m1 0h8m1 0h10m1 0h3m1 0h1m1 0h1m4 0h1m11 0h2m2 0h1m24 0h1m10 0h1m10 0h1m33 0h1m18 0h1m25 0h1M330 619.5h3m1 0h27m4 0h1m3 0h2m2 0h1m3 0h1m1 0h1m10 0h1m31 0h1m23 0h1M328 620.5h9m1 0h11m1 0h2m1 0h1m1 0h3m2 0h2m4 0h2m7 0h1m2 0h1m4 0h1m2 0h1m9 0h1m81 0h1M328 621.5h5m1 0h12m1 0h10m1 0h4m3 0h1m2 0h1m6 0h1m6 0h2m2 0h1m2 0h1m3 0h1m22 0h1m55 0h1M328 622.5h10m1 0h21m2 0h1m1 0h1m1 0h1m8 0h1m2 0h1m5 0h2m9 0h1m14 0h1m1 0h1M328 623.5h9m1 0h7m1 0h8m2 0h1m2 0h1m5 0h1m3 0h1m5 0h1m4 0h1m6 0h1m2 0h1m2 0h1m32 0h1m17 0h1M328 624.5h32m10 0h1m2 0h2m2 0h1m1 0h1m7 0h1m19 0h1m33 0h1m23 0h1m13 0h1M328 625.5h28m1 0h1m1 0h3m1 0h2m3 0h2m3 0h3m4 0h1m16 0h1m20 0h1m55 0h1M328 626.5h1m1 0h26m1 0h5m1 0h1m2 0h1m8 0h2m3 0h1m13 0h1m13 0h1m4 0h1m72 0h1M328 627.5h26m1 0h2m2 0h1m2 0h3m4 0h3m4 0h1m4 0h1M328 628.5h19m2 0h6m1 0h1m1 0h1m1 0h5m9 0h1m1 0h2m5 0h1m1 0h1m7 0h1m11 0h1m44 0h1m5 0h1m11 0h1M329 629.5h28m3 0h4m1 0h2m4 0h1m1 0h2m2 0h3m2 0h3m77 0h1m3 0h1m6 0h1m6 0h1M328 630.5h16m1 0h10m1 0h3m2 0h3m1 0h1m2 0h1m1 0h1m2 0h2m29 0h1m33 0h1M328 631.5h15m1 0h4m1 0h5m1 0h3m1 0h2m2 0h2m1 0h2m2 0h1m1 0h1m1 0h1m5 0h1m5 0h1m58 0h2m1 0h1m9 0h1M328 632.5h3m1 0h1m1 0h13m2 0h10m2 0h2m1 0h1m4 0h1m8 0h1m1 0h2m10 0h2m1 0h2m4 0h1m8 0h1m19 0h1M328 633.5h3m1 0h10m1 0h18m1 0h1m3 0h1m1 0h1m7 0h2m3 0h1m2 0h1m5 0h1m1 0h1m5 0h1m8 0h1m6 0h1m33 0h1m19 0h1M329 634.5h11m1 0h6m1 0h5m1 0h2m2 0h2m1 0h2m1 0h1m1 0h3m2 0h1m4 0h1m9 0h1m3 0h1m15 0h1m28 0h1M328 635.5h18m1 0h11m2 0h1m10 0h1m3 0h3m1 0h1m10 0h1m7 0h1m14 0h1m19 0h1m9 0h1m11 0h1m6 0h1M328 636.5h3m1 0h11m1 0h12m2 0h1m1 0h1m1 0h1m1 0h1m1 0h1m8 0h1m2 0h1m5 0h1m4 0h1m14 0h1m31 0h1M328 637.5h30m1 0h1m1 0h1m1 0h1m1 0h3m10 0h2m2 0h1m4 0h1m73 0h1M328 638.5h3m1 0h3m1 0h13m1 0h2m1 0h5m1 0h2m1 0h1m2 0h2m9 0h1m2 0h1m11 0h1m18 0h1m22 0h1m49 0h1M328 639.5h30m1 0h3m5 0h1m2 0h1m6 0h1m9 0h1m1 0h1m23 0h1m43 0h1m15 0h1M328 640.5h6m1 0h5m2 0h8m1 0h4m1 0h1m2 0h3m2 0h3m4 0h1m3 0h1m2 0h1m16 0h1m43 0h1m32 0h1M329 641.5h13m1 0h6m1 0h12m1 0h1m3 0h1m3 0h3m3 0h1m5 0h2m31 0h1m17 0h1M328 642.5h19m1 0h8m1 0h2m1 0h2m1 0h4m2 0h3m2 0h1m3 0h1m1 0h1m1 0h1m48 0h1M328 643.5h11m1 0h18m1 0h2m4 0h1m5 0h1m6 0h1m5 0h1M328 644.5h26m1 0h2m1 0h2m1 0h2m2 0h1m2 0h2m1 0h1m1 0h1m7 0h1m7 0h1m27 0h1m10 0h1m44 0h1M328 645.5h28m1 0h4m1 0h1m1 0h1m8 0h1m125 0h1M328 646.5h11m2 0h7m1 0h10m2 0h1m4 0h1m5 0h1m2 0h1m2 0h1m2 0h1m20 0h1m24 0h2m22 0h1m3 0h1M328 647.5h8m1 0h1m1 0h17m2 0h1m1 0h1m2 0h1m2 0h2m5 0h1m6 0h1m1 0h1m26 0h1m44 0h1M328 648.5h26m3 0h4m3 0h1m2 0h1m1 0h1m1 0h2m11 0h2m8 0h1m20 0h1M328 649.5h4m1 0h23m1 0h1m1 0h1m5 0h1m2 0h1m1 0h2m11 0h1m5 0h1m3 0h1m18 0h1m1 0h1m38 0h1m29 0h1M328 650.5h21m1 0h8m3 0h5m3 0h1m3 0h1m5 0h1m101 0h1M328 651.5h30m1 0h1m1 0h2m2 0h2m3 0h1m2 0h1m4 0h1m8 0h1m7 0h1m5 0h1m13 0h1M328 652.5h29m1 0h5m1 0h1m1 0h1m5 0h1m1 0h1m3 0h2m2 0h1m8 0h1m16 0h1m31 0h1m54 0h1M328 653.5h6m1 0h22m6 0h3m1 0h1m1 0h2m3 0h1m1 0h2m5 0h1m3 0h1m11 0h1M328 654.5h17m1 0h1m1 0h3m1 0h2m1 0h3m2 0h2m3 0h1m2 0h2m18 0h1m4 0h1m10 0h1m16 0h1m9 0h1m2 0h1m4 0h1m53 0h1m4 0h1M328 655.5h15m1 0h5m1 0h6m2 0h1m8 0h1m7 0h1m3 0h2m1 0h1m11 0h1m10 0h1m91 0h1M328 656.5h20m1 0h7m1 0h9m1 0h3m7 0h1m1 0h1m2 0h1m40 0h1m11 0h1m4 0h1m27 0h1M328 657.5h2m1 0h4m1 0h7m1 0h15m2 0h1m1 0h2m5 0h1m3 0h1m1 0h1m2 0h1m28 0h1m12 0h1m56 0h1M328 658.5h32m1 0h1m2 0h1m5 0h1m7 0h1m3 0h1m15 0h1m18 0h1m14 0h1m9 0h1M328 659.5h24m1 0h2m1 0h5m2 0h1m5 0h2m15 0h1m6 0h1m2 0h1m53 0h1m23 0h1" stroke="#000" stroke-width="1" fill="none" shape-rendering="crispEdges"/>
<rect x="327.4" y="499.8" width="183.10000000000002" height="160.40000000000003" fill="none" stroke="#000" stroke-width="1.2"/>
<path d="M327.40 660.2v5.3M327.4 660.20h-5.8M341.18 660.2v2.6M327.4 648.13h-2.6M349.24 660.2v2.6M327.4 641.07h-2.6M354.96 660.2v2.6M327.4 636.06h-2.6M359.40 660.2v2.6M327.4 632.17h-2.6M363.02 660.2v2.6M327.4 629.00h-2.6M366.08 660.2v2.6M327.4 626.31h-2.6M368.74 660.2v2.6M327.4 623.99h-2.6M371.08 660.2v2.6M327.4 621.93h-2.6M373.17 660.2v5.3M327.4 620.10h-5.8M386.95 660.2v2.6M327.4 608.03h-2.6M395.02 660.2v2.6M327.4 600.97h-2.6M400.73 660.2v2.6M327.4 595.96h-2.6M405.17 660.2v2.6M327.4 592.07h-2.6M408.79 660.2v2.6M327.4 588.90h-2.6M411.86 660.2v2.6M327.4 586.21h-2.6M414.51 660.2v2.6M327.4 583.89h-2.6M416.86 660.2v2.6M327.4 581.83h-2.6M418.95 660.2v5.3M327.4 580.00h-5.8M432.73 660.2v2.6M327.4 567.93h-2.6M440.79 660.2v2.6M327.4 560.87h-2.6M446.51 660.2v2.6M327.4 555.86h-2.6M450.95 660.2v2.6M327.4 551.97h-2.6M454.57 660.2v2.6M327.4 548.80h-2.6M457.63 660.2v2.6M327.4 546.11h-2.6M460.29 660.2v2.6M327.4 543.79h-2.6M462.63 660.2v2.6M327.4 541.73h-2.6M464.73 660.2v5.3M327.4 539.90h-5.8M478.50 660.2v2.6M327.4 527.83h-2.6M486.57 660.2v2.6M327.4 520.77h-2.6M492.28 660.2v2.6M327.4 515.76h-2.6M496.72 660.2v2.6M327.4 511.87h-2.6M500.34 660.2v2.6M327.4 508.70h-2.6M503.41 660.2v2.6M327.4 506.01h-2.6M506.06 660.2v2.6M327.4 503.69h-2.6M508.41 660.2v2.6M327.4 501.63h-2.6M510.50 660.2v5.3M327.4 499.80h-5.8" stroke="#000" stroke-width="1" fill="none"/>
<g transform="translate(331.6 677.4)"><g transform="scale(0.82 1)"><text x="0" y="0" class="sr" font-size="11.3" text-anchor="end">10</text></g><g transform="translate(0.7 -6.3) scale(0.9 1)"><text x="0" y="0" class="sr" font-size="11.6">0</text></g></g>
<g transform="translate(318.1 655.5) rotate(-90)"><g transform="scale(0.82 1)"><text x="0" y="0" class="sr" font-size="11.3" text-anchor="end">10</text></g><g transform="translate(2.2 -6.3) scale(0.8 1)"><text x="0" y="0" class="sr" font-size="11.6">0</text></g></g>
<g transform="translate(376.5 677.4)"><g transform="scale(0.82 1)"><text x="0" y="0" class="sr" font-size="11.3" text-anchor="end">10</text></g><g transform="translate(0.7 -6.3) scale(0.9 1)"><text x="0" y="0" class="sr" font-size="11.6">1</text></g></g>
<g transform="translate(318.1 616.3) rotate(-90)"><g transform="scale(0.82 1)"><text x="0" y="0" class="sr" font-size="11.3" text-anchor="end">10</text></g><g transform="translate(2.2 -6.3) scale(0.8 1)"><text x="0" y="0" class="sr" font-size="11.6">1</text></g></g>
<g transform="translate(421.0 677.4)"><g transform="scale(0.82 1)"><text x="0" y="0" class="sr" font-size="11.3" text-anchor="end">10</text></g><g transform="translate(0.7 -6.3) scale(0.9 1)"><text x="0" y="0" class="sr" font-size="11.6">2</text></g></g>
<g transform="translate(318.1 577.3) rotate(-90)"><g transform="scale(0.82 1)"><text x="0" y="0" class="sr" font-size="11.3" text-anchor="end">10</text></g><g transform="translate(2.2 -6.3) scale(0.8 1)"><text x="0" y="0" class="sr" font-size="11.6">2</text></g></g>
<g transform="translate(467.1 677.4)"><g transform="scale(0.82 1)"><text x="0" y="0" class="sr" font-size="11.3" text-anchor="end">10</text></g><g transform="translate(0.7 -6.3) scale(0.9 1)"><text x="0" y="0" class="sr" font-size="11.6">3</text></g></g>
<g transform="translate(318.1 538.1) rotate(-90)"><g transform="scale(0.82 1)"><text x="0" y="0" class="sr" font-size="11.3" text-anchor="end">10</text></g><g transform="translate(2.2 -6.3) scale(0.8 1)"><text x="0" y="0" class="sr" font-size="11.6">3</text></g></g>
<g transform="translate(511.8 677.4)"><g transform="scale(0.82 1)"><text x="0" y="0" class="sr" font-size="11.3" text-anchor="end">10</text></g><g transform="translate(0.7 -6.3) scale(0.9 1)"><text x="0" y="0" class="sr" font-size="11.6">4</text></g></g>
<g transform="translate(318.1 498.8) rotate(-90)"><g transform="scale(0.82 1)"><text x="0" y="0" class="sr" font-size="11.3" text-anchor="end">10</text></g><g transform="translate(2.2 -6.3) scale(0.8 1)"><text x="0" y="0" class="sr" font-size="11.6">4</text></g></g>
<g transform="translate(303.7 597.8) rotate(-90) scale(0.83 1)"><text x="0" y="0" class="sr" font-size="11.7">lin+-PE</text></g>
<text x="385" y="686.9" class="sr" font-size="10.35" text-anchor="start">HLA-DR FITC</text>
<path d="M382.2 591H394M404.2 591H416.8M425.8 591H437.8M447.2 591H460M469.2 591H481.4M490.9 591H499.1M383.2 589.7V601.7M383.2 611.2V623.5M383.2 634V645.2" fill="none" stroke="#000" stroke-width="2.6"/>
<path d="M381.9 656.2H497.8V589.7" fill="none" stroke="#000" stroke-width="2.6" stroke-linejoin="miter"/>
</svg>
</body></html>
